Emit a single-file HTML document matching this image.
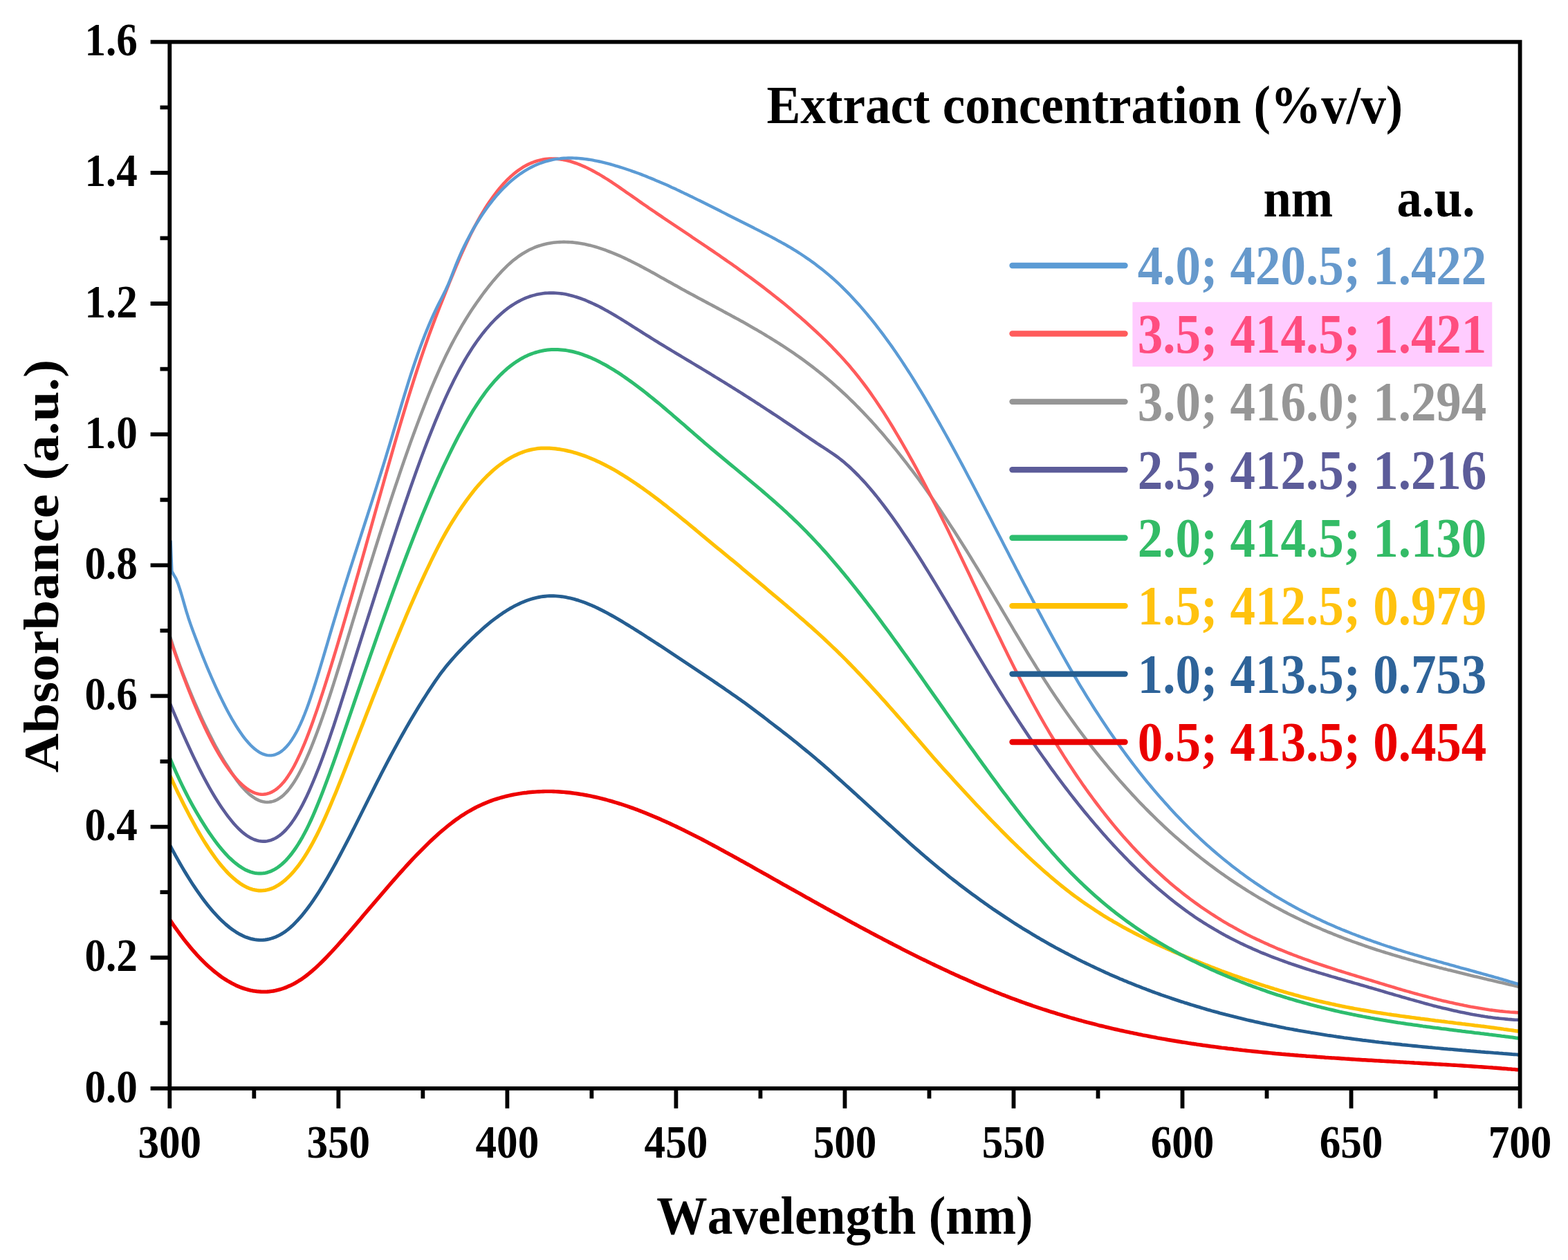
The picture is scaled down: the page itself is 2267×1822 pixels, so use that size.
<!DOCTYPE html>
<html lang="en"><head><meta charset="utf-8"><title>UV-Vis absorbance vs extract concentration</title>
<style>
html,body{margin:0;padding:0;background:#fff;}
body{width:2267px;height:1822px;overflow:hidden;}
svg{display:block;}
text{font-family:'Liberation Serif', serif;font-weight:bold;white-space:pre;font-kerning:none;}
.ax{stroke:#000;stroke-width:5.8;fill:none;stroke-linecap:butt;}
.cv{fill:none;stroke-linejoin:round;stroke-linecap:butt;}
.lg{fill:none;stroke-width:8.4;stroke-linecap:round;}
</style></head><body>
<svg xmlns="http://www.w3.org/2000/svg" width="2267" height="1822" viewBox="0 0 2267 1822">
<rect x="0" y="0" width="2267" height="1822" fill="#ffffff"/>
<defs><clipPath id="plot"><rect x="245.3" y="60.7" width="1952.3" height="1513.2"/></clipPath></defs>
<g clip-path="url(#plot)">
<polyline class="cv" stroke="#EE0000" stroke-width="5.4" points="245.3,1329.5 248.3,1334.0 251.3,1338.4 254.3,1342.6 257.3,1346.8 260.3,1350.9 263.3,1354.9 266.3,1358.8 269.3,1362.6 272.3,1366.3 275.3,1369.9 278.3,1373.5 281.3,1376.9 284.3,1380.3 287.3,1383.5 290.3,1386.7 293.3,1389.7 296.3,1392.6 299.3,1395.5 302.3,1398.2 305.3,1400.8 308.3,1403.4 311.3,1405.9 314.3,1408.2 317.3,1410.5 320.3,1412.7 323.3,1414.7 326.3,1416.6 329.3,1418.5 332.3,1420.2 335.3,1421.9 338.3,1423.4 341.3,1424.9 344.3,1426.2 347.3,1427.5 350.3,1428.6 353.3,1429.6 356.3,1430.5 359.3,1431.4 362.3,1432.1 365.3,1432.7 368.3,1433.1 371.3,1433.5 374.3,1433.8 377.3,1434.0 380.3,1434.1 383.3,1434.1 386.3,1434.0 389.3,1433.8 392.3,1433.4 395.3,1433.0 398.3,1432.4 401.3,1431.7 404.3,1430.9 407.3,1430.0 410.3,1429.0 413.3,1427.9 416.3,1426.6 419.3,1425.3 422.3,1423.8 425.3,1422.3 428.3,1420.6 431.3,1418.8 434.3,1416.9 437.3,1414.9 440.3,1412.8 443.3,1410.5 446.3,1408.1 449.3,1405.6 452.3,1403.1 455.3,1400.4 458.3,1397.7 461.3,1394.9 464.3,1392.0 467.3,1389.0 470.3,1386.0 473.3,1382.9 476.3,1379.7 479.3,1376.5 482.3,1373.2 485.3,1370.0 488.3,1366.7 491.3,1363.3 494.3,1359.9 497.3,1356.6 500.3,1353.1 503.3,1349.7 506.3,1346.2 509.3,1342.7 512.3,1339.2 515.3,1335.7 518.3,1332.2 521.3,1328.7 524.3,1325.1 527.3,1321.6 530.3,1318.1 533.3,1314.5 536.3,1311.0 539.3,1307.4 542.3,1303.9 545.3,1300.4 548.3,1296.9 551.3,1293.4 554.3,1289.9 557.3,1286.4 560.3,1282.9 563.3,1279.4 566.3,1276.0 569.3,1272.6 572.3,1269.2 575.3,1265.8 578.3,1262.4 581.3,1259.1 584.3,1255.7 587.3,1252.4 590.3,1249.1 593.3,1245.9 596.3,1242.7 599.3,1239.5 602.3,1236.4 605.3,1233.3 608.3,1230.3 611.3,1227.3 614.3,1224.3 617.3,1221.3 620.3,1218.4 623.3,1215.5 626.3,1212.7 629.3,1210.0 632.3,1207.3 635.3,1204.6 638.3,1202.0 641.3,1199.5 644.3,1197.0 647.3,1194.5 650.3,1192.1 653.3,1189.8 656.3,1187.5 659.3,1185.3 662.3,1183.2 665.3,1181.1 668.3,1179.1 671.3,1177.2 674.3,1175.3 677.3,1173.5 680.3,1171.8 683.3,1170.1 686.3,1168.5 689.3,1166.9 692.3,1165.5 695.3,1164.1 698.3,1162.7 701.3,1161.4 704.3,1160.2 707.3,1159.0 710.3,1157.9 713.3,1156.8 716.3,1155.8 719.3,1154.9 722.3,1154.0 725.3,1153.1 728.3,1152.3 731.3,1151.5 734.3,1150.8 737.3,1150.1 740.3,1149.5 743.3,1148.9 746.3,1148.4 749.3,1147.9 752.3,1147.4 755.3,1146.9 758.3,1146.5 761.3,1146.2 764.3,1145.8 767.3,1145.5 770.3,1145.3 773.3,1145.1 776.3,1144.9 779.3,1144.7 782.3,1144.6 785.3,1144.5 788.3,1144.4 791.3,1144.4 794.3,1144.4 797.3,1144.4 800.3,1144.5 803.3,1144.6 806.3,1144.8 809.3,1145.0 812.3,1145.2 815.3,1145.4 818.3,1145.7 821.3,1146.0 824.3,1146.3 827.3,1146.7 830.3,1147.1 833.3,1147.5 836.3,1148.0 839.3,1148.5 842.3,1148.9 845.3,1149.5 848.3,1150.0 851.3,1150.6 854.3,1151.2 857.3,1151.8 860.3,1152.5 863.3,1153.2 866.3,1153.9 869.3,1154.6 872.3,1155.4 875.3,1156.2 878.3,1157.0 881.3,1157.8 884.3,1158.7 887.3,1159.6 890.3,1160.5 893.3,1161.4 896.3,1162.3 899.3,1163.3 902.3,1164.3 905.3,1165.3 908.3,1166.3 911.3,1167.4 914.3,1168.4 917.3,1169.5 920.3,1170.6 923.3,1171.8 926.3,1172.9 929.3,1174.1 932.3,1175.2 935.3,1176.4 938.3,1177.7 941.3,1178.9 944.3,1180.2 947.3,1181.4 950.3,1182.7 953.3,1184.0 956.3,1185.4 959.3,1186.7 962.3,1188.1 965.3,1189.4 968.3,1190.8 971.3,1192.2 974.3,1193.6 977.3,1195.0 980.3,1196.5 983.3,1197.9 986.3,1199.4 989.3,1200.8 992.3,1202.3 995.3,1203.8 998.3,1205.3 1001.3,1206.8 1004.3,1208.3 1007.3,1209.9 1010.3,1211.4 1013.3,1212.9 1016.3,1214.5 1019.3,1216.1 1022.3,1217.7 1025.3,1219.3 1028.3,1220.9 1031.3,1222.5 1034.3,1224.1 1037.3,1225.7 1040.3,1227.3 1043.3,1229.0 1046.3,1230.6 1049.3,1232.3 1052.3,1233.9 1055.3,1235.6 1058.3,1237.2 1061.3,1238.9 1064.3,1240.5 1067.3,1242.2 1070.3,1243.9 1073.3,1245.5 1076.3,1247.2 1079.3,1248.9 1082.3,1250.5 1085.3,1252.2 1088.3,1253.9 1091.3,1255.6 1094.3,1257.3 1097.3,1259.0 1100.3,1260.7 1103.3,1262.4 1106.3,1264.0 1109.3,1265.7 1112.3,1267.4 1115.3,1269.1 1118.3,1270.8 1121.3,1272.5 1124.3,1274.2 1127.3,1275.9 1130.3,1277.6 1133.3,1279.3 1136.3,1280.9 1139.3,1282.6 1142.3,1284.3 1145.3,1286.0 1148.3,1287.6 1151.3,1289.3 1154.3,1291.0 1157.3,1292.7 1160.3,1294.4 1163.3,1296.1 1166.3,1297.8 1169.3,1299.4 1172.3,1301.1 1175.3,1302.8 1178.3,1304.5 1181.3,1306.1 1184.3,1307.8 1187.3,1309.5 1190.3,1311.1 1193.3,1312.8 1196.3,1314.5 1199.3,1316.1 1202.3,1317.8 1205.3,1319.4 1208.3,1321.1 1211.3,1322.7 1214.3,1324.4 1217.3,1326.0 1220.3,1327.7 1223.3,1329.3 1226.3,1331.0 1229.3,1332.6 1232.3,1334.3 1235.3,1335.9 1238.3,1337.5 1241.3,1339.2 1244.3,1340.8 1247.3,1342.4 1250.3,1344.0 1253.3,1345.6 1256.3,1347.2 1259.3,1348.8 1262.3,1350.4 1265.3,1352.0 1268.3,1353.6 1271.3,1355.2 1274.3,1356.7 1277.3,1358.3 1280.3,1359.9 1283.3,1361.4 1286.3,1363.0 1289.3,1364.5 1292.3,1366.1 1295.3,1367.6 1298.3,1369.2 1301.3,1370.7 1304.3,1372.3 1307.3,1373.8 1310.3,1375.3 1313.3,1376.8 1316.3,1378.3 1319.3,1379.8 1322.3,1381.3 1325.3,1382.8 1328.3,1384.3 1331.3,1385.8 1334.3,1387.3 1337.3,1388.7 1340.3,1390.2 1343.3,1391.6 1346.3,1393.1 1349.3,1394.5 1352.3,1396.0 1355.3,1397.4 1358.3,1398.8 1361.3,1400.2 1364.3,1401.6 1367.3,1403.0 1370.3,1404.4 1373.3,1405.9 1376.3,1407.3 1379.3,1408.6 1382.3,1410.0 1385.3,1411.3 1388.3,1412.7 1391.3,1414.0 1394.3,1415.3 1397.3,1416.6 1400.3,1417.9 1403.3,1419.3 1406.3,1420.6 1409.3,1421.9 1412.3,1423.2 1415.3,1424.5 1418.3,1425.8 1421.3,1427.0 1424.3,1428.2 1427.3,1429.5 1430.3,1430.7 1433.3,1431.9 1436.3,1433.1 1439.3,1434.4 1442.3,1435.6 1445.3,1436.8 1448.3,1438.0 1451.3,1439.1 1454.3,1440.3 1457.3,1441.4 1460.3,1442.6 1463.3,1443.7 1466.3,1444.8 1469.3,1445.9 1472.3,1447.0 1475.3,1448.1 1478.3,1449.2 1481.3,1450.3 1484.3,1451.4 1487.3,1452.4 1490.3,1453.4 1493.3,1454.5 1496.3,1455.5 1499.3,1456.5 1502.3,1457.5 1505.3,1458.5 1508.3,1459.5 1511.3,1460.4 1514.3,1461.4 1517.3,1462.4 1520.3,1463.3 1523.3,1464.2 1526.3,1465.1 1529.3,1466.1 1532.3,1467.0 1535.3,1467.9 1538.3,1468.8 1541.3,1469.7 1544.3,1470.6 1547.3,1471.5 1550.3,1472.3 1553.3,1473.2 1556.3,1474.0 1559.3,1474.9 1562.3,1475.7 1565.3,1476.5 1568.3,1477.3 1571.3,1478.1 1574.3,1478.8 1577.3,1479.6 1580.3,1480.4 1583.3,1481.2 1586.3,1482.0 1589.3,1482.8 1592.3,1483.5 1595.3,1484.2 1598.3,1485.0 1601.3,1485.7 1604.3,1486.4 1607.3,1487.1 1610.3,1487.8 1613.3,1488.5 1616.3,1489.2 1619.3,1489.9 1622.3,1490.5 1625.3,1491.2 1628.3,1491.8 1631.3,1492.4 1634.3,1493.1 1637.3,1493.7 1640.3,1494.3 1643.3,1494.9 1646.3,1495.6 1649.3,1496.2 1652.3,1496.8 1655.3,1497.3 1658.3,1497.9 1661.3,1498.5 1664.3,1499.1 1667.3,1499.7 1670.3,1500.2 1673.3,1500.8 1676.3,1501.3 1679.3,1501.9 1682.3,1502.4 1685.3,1502.9 1688.3,1503.5 1691.3,1504.0 1694.3,1504.5 1697.3,1505.0 1700.3,1505.5 1703.3,1506.0 1706.3,1506.5 1709.3,1507.0 1712.3,1507.4 1715.3,1507.9 1718.3,1508.4 1721.3,1508.8 1724.3,1509.3 1727.3,1509.7 1730.3,1510.2 1733.3,1510.6 1736.3,1511.0 1739.3,1511.5 1742.3,1511.9 1745.3,1512.3 1748.3,1512.7 1751.3,1513.1 1754.3,1513.5 1757.3,1513.9 1760.3,1514.3 1763.3,1514.7 1766.3,1515.1 1769.3,1515.4 1772.3,1515.8 1775.3,1516.2 1778.3,1516.5 1781.3,1516.8 1784.3,1517.2 1787.3,1517.5 1790.3,1517.9 1793.3,1518.2 1796.3,1518.6 1799.3,1518.9 1802.3,1519.3 1805.3,1519.6 1808.3,1519.9 1811.3,1520.2 1814.3,1520.5 1817.3,1520.8 1820.3,1521.1 1823.3,1521.4 1826.3,1521.7 1829.3,1522.0 1832.3,1522.3 1835.3,1522.6 1838.3,1522.9 1841.3,1523.2 1844.3,1523.5 1847.3,1523.7 1850.3,1524.0 1853.3,1524.3 1856.3,1524.5 1859.3,1524.8 1862.3,1525.0 1865.3,1525.3 1868.3,1525.5 1871.3,1525.8 1874.3,1526.0 1877.3,1526.3 1880.3,1526.5 1883.3,1526.7 1886.3,1526.9 1889.3,1527.2 1892.3,1527.4 1895.3,1527.6 1898.3,1527.8 1901.3,1528.0 1904.3,1528.3 1907.3,1528.5 1910.3,1528.7 1913.3,1528.9 1916.3,1529.2 1919.3,1529.4 1922.3,1529.6 1925.3,1529.8 1928.3,1529.9 1931.3,1530.1 1934.3,1530.3 1937.3,1530.5 1940.3,1530.7 1943.3,1530.9 1946.3,1531.1 1949.3,1531.3 1952.3,1531.5 1955.3,1531.7 1958.3,1531.9 1961.3,1532.1 1964.3,1532.3 1967.3,1532.5 1970.3,1532.7 1973.3,1532.8 1976.3,1533.0 1979.3,1533.2 1982.3,1533.3 1985.3,1533.5 1988.3,1533.7 1991.3,1533.9 1994.3,1534.0 1997.3,1534.2 2000.3,1534.4 2003.3,1534.6 2006.3,1534.7 2009.3,1534.9 2012.3,1535.1 2015.3,1535.2 2018.3,1535.4 2021.3,1535.6 2024.3,1535.8 2027.3,1535.9 2030.3,1536.1 2033.3,1536.3 2036.3,1536.4 2039.3,1536.6 2042.3,1536.8 2045.3,1537.0 2048.3,1537.1 2051.3,1537.3 2054.3,1537.5 2057.3,1537.7 2060.3,1537.8 2063.3,1538.0 2066.3,1538.2 2069.3,1538.3 2072.3,1538.5 2075.3,1538.7 2078.3,1538.9 2081.3,1539.0 2084.3,1539.2 2087.3,1539.4 2090.3,1539.5 2093.3,1539.7 2096.3,1539.9 2099.3,1540.1 2102.3,1540.2 2105.3,1540.4 2108.3,1540.6 2111.3,1540.8 2114.3,1541.0 2117.3,1541.2 2120.3,1541.4 2123.3,1541.6 2126.3,1541.8 2129.3,1542.0 2132.3,1542.2 2135.3,1542.4 2138.3,1542.6 2141.3,1542.8 2144.3,1543.0 2147.3,1543.2 2150.3,1543.4 2153.3,1543.6 2156.3,1543.8 2159.3,1544.1 2162.3,1544.3 2165.3,1544.5 2168.3,1544.7 2171.3,1545.0 2174.3,1545.2 2177.3,1545.4 2180.3,1545.7 2183.3,1545.9 2186.3,1546.2 2189.3,1546.4 2192.3,1546.7 2195.3,1546.9 2197.6,1547.1"/>
<polyline class="cv" stroke="#255E91" stroke-width="4.9" points="245.3,1221.5 248.3,1227.1 251.3,1232.6 254.3,1238.1 257.3,1243.4 260.3,1248.7 263.3,1253.9 266.3,1259.0 269.3,1263.9 272.3,1268.8 275.3,1273.5 278.3,1278.2 281.3,1282.7 284.3,1287.1 287.3,1291.4 290.3,1295.6 293.3,1299.7 296.3,1303.7 299.3,1307.6 302.3,1311.3 305.3,1314.9 308.3,1318.4 311.3,1321.7 314.3,1324.9 317.3,1328.0 320.3,1330.9 323.3,1333.8 326.3,1336.5 329.3,1339.0 332.3,1341.5 335.3,1343.7 338.3,1345.8 341.3,1347.8 344.3,1349.6 347.3,1351.3 350.3,1352.8 353.3,1354.2 356.3,1355.4 359.3,1356.4 362.3,1357.3 365.3,1358.0 368.3,1358.6 371.3,1359.0 374.3,1359.3 377.3,1359.4 380.3,1359.3 383.3,1359.0 386.3,1358.5 389.3,1357.8 392.3,1357.0 395.3,1356.1 398.3,1354.9 401.3,1353.6 404.3,1352.1 407.3,1350.4 410.3,1348.5 413.3,1346.4 416.3,1344.1 419.3,1341.6 422.3,1338.9 425.3,1336.0 428.3,1332.9 431.3,1329.7 434.3,1326.3 437.3,1322.8 440.3,1319.1 443.3,1315.2 446.3,1311.2 449.3,1307.1 452.3,1302.8 455.3,1298.4 458.3,1293.9 461.3,1289.2 464.3,1284.4 467.3,1279.5 470.3,1274.5 473.3,1269.5 476.3,1264.3 479.3,1259.0 482.3,1253.6 485.3,1248.2 488.3,1242.6 491.3,1237.0 494.3,1231.4 497.3,1225.7 500.3,1219.9 503.3,1214.1 506.3,1208.3 509.3,1202.4 512.3,1196.5 515.3,1190.5 518.3,1184.5 521.3,1178.5 524.3,1172.5 527.3,1166.5 530.3,1160.5 533.3,1154.5 536.3,1148.6 539.3,1142.6 542.3,1136.6 545.3,1130.7 548.3,1124.8 551.3,1118.9 554.3,1113.1 557.3,1107.4 560.3,1101.7 563.3,1096.0 566.3,1090.4 569.3,1084.8 572.3,1079.3 575.3,1073.8 578.3,1068.4 581.3,1063.0 584.3,1057.7 587.3,1052.4 590.3,1047.2 593.3,1042.1 596.3,1037.0 599.3,1031.9 602.3,1027.0 605.3,1022.0 608.3,1017.2 611.3,1012.4 614.3,1007.7 617.3,1003.0 620.3,998.4 623.3,993.9 626.3,989.4 629.3,984.9 632.3,980.6 635.3,976.3 638.3,972.3 641.3,968.4 644.3,964.6 647.3,960.9 650.3,957.4 653.3,953.9 656.3,950.5 659.3,947.2 662.3,943.9 665.3,940.7 668.3,937.6 671.3,934.5 674.3,931.4 677.3,928.4 680.3,925.4 683.3,922.5 686.3,919.7 689.3,916.9 692.3,914.2 695.3,911.5 698.3,908.8 701.3,906.2 704.3,903.6 707.3,901.1 710.3,898.7 713.3,896.4 716.3,894.1 719.3,891.9 722.3,889.8 725.3,887.7 728.3,885.6 731.3,883.7 734.3,881.8 737.3,880.0 740.3,878.3 743.3,876.7 746.3,875.1 749.3,873.7 752.3,872.3 755.3,870.9 758.3,869.7 761.3,868.5 764.3,867.5 767.3,866.5 770.3,865.6 773.3,864.8 776.3,864.1 779.3,863.5 782.3,862.9 785.3,862.5 788.3,862.2 791.3,861.9 794.3,861.8 797.3,861.7 800.3,861.7 803.3,861.9 806.3,862.1 809.3,862.4 812.3,862.7 815.3,863.2 818.3,863.7 821.3,864.3 824.3,864.9 827.3,865.6 830.3,866.4 833.3,867.3 836.3,868.2 839.3,869.2 842.3,870.2 845.3,871.3 848.3,872.5 851.3,873.7 854.3,874.9 857.3,876.3 860.3,877.6 863.3,879.0 866.3,880.5 869.3,882.0 872.3,883.5 875.3,885.1 878.3,886.7 881.3,888.3 884.3,890.0 887.3,891.7 890.3,893.4 893.3,895.1 896.3,896.9 899.3,898.7 902.3,900.5 905.3,902.3 908.3,904.1 911.3,906.0 914.3,907.8 917.3,909.7 920.3,911.6 923.3,913.5 926.3,915.4 929.3,917.3 932.3,919.2 935.3,921.2 938.3,923.1 941.3,925.1 944.3,927.0 947.3,929.0 950.3,930.9 953.3,932.9 956.3,934.8 959.3,936.8 962.3,938.8 965.3,940.7 968.3,942.7 971.3,944.7 974.3,946.7 977.3,948.7 980.3,950.7 983.3,952.7 986.3,954.7 989.3,956.7 992.3,958.7 995.3,960.7 998.3,962.7 1001.3,964.7 1004.3,966.7 1007.3,968.7 1010.3,970.7 1013.3,972.7 1016.3,974.7 1019.3,976.8 1022.3,978.8 1025.3,980.8 1028.3,982.8 1031.3,984.8 1034.3,986.9 1037.3,988.9 1040.3,991.0 1043.3,993.0 1046.3,995.1 1049.3,997.2 1052.3,999.2 1055.3,1001.3 1058.3,1003.4 1061.3,1005.5 1064.3,1007.6 1067.3,1009.7 1070.3,1011.8 1073.3,1014.0 1076.3,1016.1 1079.3,1018.3 1082.3,1020.5 1085.3,1022.7 1088.3,1024.9 1091.3,1027.2 1094.3,1029.4 1097.3,1031.7 1100.3,1034.0 1103.3,1036.3 1106.3,1038.6 1109.3,1040.9 1112.3,1043.3 1115.3,1045.6 1118.3,1047.9 1121.3,1050.2 1124.3,1052.5 1127.3,1054.8 1130.3,1057.1 1133.3,1059.5 1136.3,1061.8 1139.3,1064.2 1142.3,1066.5 1145.3,1068.9 1148.3,1071.3 1151.3,1073.7 1154.3,1076.2 1157.3,1078.6 1160.3,1081.1 1163.3,1083.5 1166.3,1086.0 1169.3,1088.4 1172.3,1090.9 1175.3,1093.4 1178.3,1095.9 1181.3,1098.5 1184.3,1101.0 1187.3,1103.6 1190.3,1106.2 1193.3,1108.8 1196.3,1111.4 1199.3,1114.1 1202.3,1116.8 1205.3,1119.5 1208.3,1122.2 1211.3,1124.9 1214.3,1127.6 1217.3,1130.3 1220.3,1133.0 1223.3,1135.7 1226.3,1138.4 1229.3,1141.1 1232.3,1143.9 1235.3,1146.6 1238.3,1149.3 1241.3,1152.1 1244.3,1154.8 1247.3,1157.5 1250.3,1160.3 1253.3,1163.0 1256.3,1165.7 1259.3,1168.5 1262.3,1171.2 1265.3,1174.0 1268.3,1176.7 1271.3,1179.5 1274.3,1182.2 1277.3,1185.0 1280.3,1187.7 1283.3,1190.4 1286.3,1193.1 1289.3,1195.8 1292.3,1198.5 1295.3,1201.2 1298.3,1203.9 1301.3,1206.7 1304.3,1209.4 1307.3,1212.1 1310.3,1214.8 1313.3,1217.5 1316.3,1220.2 1319.3,1222.8 1322.3,1225.5 1325.3,1228.1 1328.3,1230.7 1331.3,1233.3 1334.3,1235.9 1337.3,1238.5 1340.3,1241.0 1343.3,1243.6 1346.3,1246.1 1349.3,1248.6 1352.3,1251.1 1355.3,1253.6 1358.3,1256.1 1361.3,1258.5 1364.3,1261.0 1367.3,1263.4 1370.3,1265.9 1373.3,1268.3 1376.3,1270.6 1379.3,1273.0 1382.3,1275.3 1385.3,1277.7 1388.3,1280.0 1391.3,1282.3 1394.3,1284.5 1397.3,1286.8 1400.3,1289.0 1403.3,1291.2 1406.3,1293.4 1409.3,1295.6 1412.3,1297.8 1415.3,1300.0 1418.3,1302.2 1421.3,1304.3 1424.3,1306.5 1427.3,1308.6 1430.3,1310.7 1433.3,1312.8 1436.3,1314.9 1439.3,1316.9 1442.3,1318.9 1445.3,1320.9 1448.3,1322.9 1451.3,1324.9 1454.3,1326.9 1457.3,1328.8 1460.3,1330.8 1463.3,1332.8 1466.3,1334.7 1469.3,1336.6 1472.3,1338.5 1475.3,1340.4 1478.3,1342.3 1481.3,1344.1 1484.3,1345.9 1487.3,1347.7 1490.3,1349.5 1493.3,1351.4 1496.3,1353.2 1499.3,1355.0 1502.3,1356.7 1505.3,1358.5 1508.3,1360.2 1511.3,1361.9 1514.3,1363.6 1517.3,1365.3 1520.3,1367.0 1523.3,1368.6 1526.3,1370.3 1529.3,1371.9 1532.3,1373.5 1535.3,1375.1 1538.3,1376.7 1541.3,1378.3 1544.3,1379.8 1547.3,1381.4 1550.3,1383.0 1553.3,1384.5 1556.3,1386.1 1559.3,1387.6 1562.3,1389.1 1565.3,1390.6 1568.3,1392.0 1571.3,1393.5 1574.3,1394.9 1577.3,1396.4 1580.3,1397.8 1583.3,1399.2 1586.3,1400.6 1589.3,1402.0 1592.3,1403.4 1595.3,1404.8 1598.3,1406.2 1601.3,1407.5 1604.3,1408.9 1607.3,1410.2 1610.3,1411.5 1613.3,1412.8 1616.3,1414.1 1619.3,1415.4 1622.3,1416.6 1625.3,1417.9 1628.3,1419.1 1631.3,1420.4 1634.3,1421.6 1637.3,1422.8 1640.3,1424.0 1643.3,1425.2 1646.3,1426.3 1649.3,1427.5 1652.3,1428.7 1655.3,1429.8 1658.3,1431.0 1661.3,1432.1 1664.3,1433.2 1667.3,1434.4 1670.3,1435.5 1673.3,1436.5 1676.3,1437.6 1679.3,1438.7 1682.3,1439.7 1685.3,1440.8 1688.3,1441.8 1691.3,1442.8 1694.3,1443.9 1697.3,1444.9 1700.3,1445.9 1703.3,1446.9 1706.3,1447.9 1709.3,1448.8 1712.3,1449.8 1715.3,1450.7 1718.3,1451.6 1721.3,1452.6 1724.3,1453.5 1727.3,1454.4 1730.3,1455.3 1733.3,1456.2 1736.3,1457.1 1739.3,1458.0 1742.3,1458.9 1745.3,1459.8 1748.3,1460.6 1751.3,1461.5 1754.3,1462.3 1757.3,1463.1 1760.3,1463.9 1763.3,1464.8 1766.3,1465.6 1769.3,1466.4 1772.3,1467.2 1775.3,1467.9 1778.3,1468.7 1781.3,1469.4 1784.3,1470.2 1787.3,1470.9 1790.3,1471.7 1793.3,1472.4 1796.3,1473.1 1799.3,1473.8 1802.3,1474.6 1805.3,1475.3 1808.3,1476.0 1811.3,1476.7 1814.3,1477.4 1817.3,1478.0 1820.3,1478.7 1823.3,1479.4 1826.3,1480.0 1829.3,1480.6 1832.3,1481.3 1835.3,1481.9 1838.3,1482.5 1841.3,1483.1 1844.3,1483.7 1847.3,1484.3 1850.3,1485.0 1853.3,1485.6 1856.3,1486.2 1859.3,1486.8 1862.3,1487.3 1865.3,1487.9 1868.3,1488.4 1871.3,1489.0 1874.3,1489.5 1877.3,1490.1 1880.3,1490.6 1883.3,1491.1 1886.3,1491.6 1889.3,1492.2 1892.3,1492.7 1895.3,1493.2 1898.3,1493.6 1901.3,1494.1 1904.3,1494.6 1907.3,1495.1 1910.3,1495.6 1913.3,1496.1 1916.3,1496.6 1919.3,1497.1 1922.3,1497.5 1925.3,1497.9 1928.3,1498.4 1931.3,1498.8 1934.3,1499.3 1937.3,1499.7 1940.3,1500.1 1943.3,1500.6 1946.3,1501.0 1949.3,1501.4 1952.3,1501.8 1955.3,1502.2 1958.3,1502.6 1961.3,1503.0 1964.3,1503.4 1967.3,1503.8 1970.3,1504.2 1973.3,1504.5 1976.3,1504.9 1979.3,1505.3 1982.3,1505.6 1985.3,1506.0 1988.3,1506.4 1991.3,1506.7 1994.3,1507.1 1997.3,1507.4 2000.3,1507.8 2003.3,1508.1 2006.3,1508.4 2009.3,1508.7 2012.3,1509.1 2015.3,1509.4 2018.3,1509.7 2021.3,1510.0 2024.3,1510.3 2027.3,1510.7 2030.3,1511.0 2033.3,1511.3 2036.3,1511.6 2039.3,1511.9 2042.3,1512.2 2045.3,1512.5 2048.3,1512.8 2051.3,1513.1 2054.3,1513.4 2057.3,1513.7 2060.3,1514.0 2063.3,1514.3 2066.3,1514.6 2069.3,1514.8 2072.3,1515.1 2075.3,1515.4 2078.3,1515.6 2081.3,1515.9 2084.3,1516.2 2087.3,1516.5 2090.3,1516.7 2093.3,1517.0 2096.3,1517.2 2099.3,1517.4 2102.3,1517.7 2105.3,1518.0 2108.3,1518.3 2111.3,1518.5 2114.3,1518.8 2117.3,1519.0 2120.3,1519.3 2123.3,1519.5 2126.3,1519.8 2129.3,1520.0 2132.3,1520.2 2135.3,1520.5 2138.3,1520.7 2141.3,1521.0 2144.3,1521.2 2147.3,1521.5 2150.3,1521.7 2153.3,1521.9 2156.3,1522.1 2159.3,1522.4 2162.3,1522.6 2165.3,1522.8 2168.3,1523.1 2171.3,1523.3 2174.3,1523.6 2177.3,1523.8 2180.3,1524.0 2183.3,1524.2 2186.3,1524.5 2189.3,1524.7 2192.3,1524.9 2195.3,1525.2 2197.6,1525.4"/>
<polyline class="cv" stroke="#FFC000" stroke-width="5.2" points="245.3,1120.7 248.3,1127.2 251.3,1133.7 254.3,1140.0 257.3,1146.3 260.3,1152.4 263.3,1158.5 266.3,1164.5 269.3,1170.3 272.3,1176.1 275.3,1181.8 278.3,1187.3 281.3,1192.8 284.3,1198.2 287.3,1203.4 290.3,1208.5 293.3,1213.5 296.3,1218.3 299.3,1223.0 302.3,1227.6 305.3,1232.0 308.3,1236.3 311.3,1240.5 314.3,1244.5 317.3,1248.3 320.3,1252.0 323.3,1255.5 326.3,1258.9 329.3,1262.1 332.3,1265.1 335.3,1267.9 338.3,1270.6 341.3,1273.1 344.3,1275.4 347.3,1277.6 350.3,1279.5 353.3,1281.2 356.3,1282.8 359.3,1284.1 362.3,1285.3 365.3,1286.2 368.3,1286.9 371.3,1287.4 374.3,1287.8 377.3,1287.9 380.3,1287.7 383.3,1287.4 386.3,1286.8 389.3,1286.0 392.3,1285.0 395.3,1283.8 398.3,1282.3 401.3,1280.6 404.3,1278.7 407.3,1276.6 410.3,1274.3 413.3,1271.7 416.3,1268.9 419.3,1266.0 422.3,1262.8 425.3,1259.4 428.3,1255.7 431.3,1251.9 434.3,1247.7 437.3,1243.4 440.3,1238.9 443.3,1234.1 446.3,1229.1 449.3,1223.9 452.3,1218.5 455.3,1212.8 458.3,1207.0 461.3,1200.9 464.3,1194.6 467.3,1188.2 470.3,1181.6 473.3,1174.8 476.3,1167.9 479.3,1160.8 482.3,1153.6 485.3,1146.4 488.3,1139.0 491.3,1131.5 494.3,1124.0 497.3,1116.4 500.3,1108.8 503.3,1101.1 506.3,1093.4 509.3,1085.7 512.3,1078.0 515.3,1070.3 518.3,1062.6 521.3,1054.9 524.3,1047.2 527.3,1039.5 530.3,1031.8 533.3,1024.2 536.3,1016.5 539.3,1008.8 542.3,1001.2 545.3,993.6 548.3,986.1 551.3,978.5 554.3,971.0 557.3,963.5 560.3,956.0 563.3,948.5 566.3,941.1 569.3,933.8 572.3,926.4 575.3,919.2 578.3,911.9 581.3,904.8 584.3,897.7 587.3,890.6 590.3,883.6 593.3,876.6 596.3,869.7 599.3,862.9 602.3,856.1 605.3,849.4 608.3,842.8 611.3,836.3 614.3,829.9 617.3,823.5 620.3,817.3 623.3,811.0 626.3,804.9 629.3,798.8 632.3,792.9 635.3,787.1 638.3,781.4 641.3,775.9 644.3,770.6 647.3,765.4 650.3,760.3 653.3,755.4 656.3,750.6 659.3,745.8 662.3,741.2 665.3,736.7 668.3,732.3 671.3,728.0 674.3,723.8 677.3,719.7 680.3,715.7 683.3,711.8 686.3,708.0 689.3,704.4 692.3,701.0 695.3,697.6 698.3,694.3 701.3,691.2 704.3,688.2 707.3,685.3 710.3,682.5 713.3,679.8 716.3,677.3 719.3,674.8 722.3,672.5 725.3,670.3 728.3,668.2 731.3,666.2 734.3,664.3 737.3,662.5 740.3,660.8 743.3,659.2 746.3,657.8 749.3,656.4 752.3,655.1 755.3,654.0 758.3,652.9 761.3,651.9 764.3,651.1 767.3,650.4 770.3,649.7 773.3,649.2 776.3,648.7 779.3,648.4 782.3,648.2 785.3,648.1 788.3,648.0 791.3,648.1 794.3,648.2 797.3,648.4 800.3,648.6 803.3,648.9 806.3,649.3 809.3,649.7 812.3,650.2 815.3,650.8 818.3,651.4 821.3,652.1 824.3,652.8 827.3,653.6 830.3,654.4 833.3,655.3 836.3,656.2 839.3,657.2 842.3,658.2 845.3,659.3 848.3,660.4 851.3,661.6 854.3,662.8 857.3,664.1 860.3,665.4 863.3,666.8 866.3,668.2 869.3,669.6 872.3,671.1 875.3,672.6 878.3,674.2 881.3,675.8 884.3,677.4 887.3,679.1 890.3,680.8 893.3,682.6 896.3,684.4 899.3,686.2 902.3,688.1 905.3,690.0 908.3,691.9 911.3,693.9 914.3,695.9 917.3,697.9 920.3,699.9 923.3,702.0 926.3,704.1 929.3,706.2 932.3,708.3 935.3,710.5 938.3,712.7 941.3,714.9 944.3,717.1 947.3,719.4 950.3,721.6 953.3,723.9 956.3,726.2 959.3,728.6 962.3,730.9 965.3,733.3 968.3,735.7 971.3,738.1 974.3,740.5 977.3,742.9 980.3,745.3 983.3,747.8 986.3,750.2 989.3,752.6 992.3,755.1 995.3,757.5 998.3,760.0 1001.3,762.5 1004.3,764.9 1007.3,767.4 1010.3,769.9 1013.3,772.4 1016.3,774.9 1019.3,777.4 1022.3,779.9 1025.3,782.4 1028.3,784.9 1031.3,787.4 1034.3,789.9 1037.3,792.4 1040.3,794.8 1043.3,797.3 1046.3,799.8 1049.3,802.2 1052.3,804.7 1055.3,807.2 1058.3,809.6 1061.3,812.1 1064.3,814.6 1067.3,817.1 1070.3,819.6 1073.3,822.2 1076.3,824.7 1079.3,827.2 1082.3,829.7 1085.3,832.2 1088.3,834.7 1091.3,837.2 1094.3,839.7 1097.3,842.2 1100.3,844.7 1103.3,847.3 1106.3,849.8 1109.3,852.4 1112.3,854.9 1115.3,857.4 1118.3,860.0 1121.3,862.5 1124.3,865.0 1127.3,867.5 1130.3,870.0 1133.3,872.6 1136.3,875.1 1139.3,877.7 1142.3,880.2 1145.3,882.8 1148.3,885.4 1151.3,888.0 1154.3,890.6 1157.3,893.2 1160.3,895.8 1163.3,898.4 1166.3,901.0 1169.3,903.7 1172.3,906.3 1175.3,909.0 1178.3,911.7 1181.3,914.4 1184.3,917.2 1187.3,919.9 1190.3,922.7 1193.3,925.5 1196.3,928.3 1199.3,931.1 1202.3,934.0 1205.3,936.8 1208.3,939.7 1211.3,942.6 1214.3,945.6 1217.3,948.5 1220.3,951.5 1223.3,954.5 1226.3,957.6 1229.3,960.6 1232.3,963.7 1235.3,966.8 1238.3,970.0 1241.3,973.1 1244.3,976.3 1247.3,979.5 1250.3,982.7 1253.3,985.9 1256.3,989.1 1259.3,992.4 1262.3,995.7 1265.3,999.0 1268.3,1002.3 1271.3,1005.6 1274.3,1008.9 1277.3,1012.3 1280.3,1015.6 1283.3,1019.0 1286.3,1022.4 1289.3,1025.7 1292.3,1029.1 1295.3,1032.5 1298.3,1036.0 1301.3,1039.4 1304.3,1042.8 1307.3,1046.3 1310.3,1049.8 1313.3,1053.3 1316.3,1056.7 1319.3,1060.2 1322.3,1063.7 1325.3,1067.1 1328.3,1070.6 1331.3,1074.1 1334.3,1077.6 1337.3,1081.1 1340.3,1084.6 1343.3,1088.1 1346.3,1091.6 1349.3,1095.1 1352.3,1098.5 1355.3,1101.9 1358.3,1105.2 1361.3,1108.6 1364.3,1111.9 1367.3,1115.2 1370.3,1118.5 1373.3,1121.8 1376.3,1125.1 1379.3,1128.5 1382.3,1131.7 1385.3,1135.0 1388.3,1138.3 1391.3,1141.5 1394.3,1144.8 1397.3,1148.0 1400.3,1151.3 1403.3,1154.5 1406.3,1157.8 1409.3,1161.0 1412.3,1164.2 1415.3,1167.3 1418.3,1170.5 1421.3,1173.7 1424.3,1176.8 1427.3,1180.0 1430.3,1183.1 1433.3,1186.2 1436.3,1189.3 1439.3,1192.4 1442.3,1195.4 1445.3,1198.5 1448.3,1201.6 1451.3,1204.6 1454.3,1207.6 1457.3,1210.6 1460.3,1213.6 1463.3,1216.6 1466.3,1219.5 1469.3,1222.4 1472.3,1225.3 1475.3,1228.2 1478.3,1231.1 1481.3,1233.9 1484.3,1236.8 1487.3,1239.6 1490.3,1242.4 1493.3,1245.1 1496.3,1247.9 1499.3,1250.6 1502.3,1253.3 1505.3,1255.9 1508.3,1258.6 1511.3,1261.2 1514.3,1263.8 1517.3,1266.4 1520.3,1269.0 1523.3,1271.5 1526.3,1274.0 1529.3,1276.5 1532.3,1279.0 1535.3,1281.4 1538.3,1283.8 1541.3,1286.1 1544.3,1288.5 1547.3,1290.8 1550.3,1293.1 1553.3,1295.3 1556.3,1297.5 1559.3,1299.7 1562.3,1301.8 1565.3,1304.0 1568.3,1306.1 1571.3,1308.2 1574.3,1310.2 1577.3,1312.2 1580.3,1314.2 1583.3,1316.2 1586.3,1318.1 1589.3,1320.0 1592.3,1322.0 1595.3,1323.9 1598.3,1325.7 1601.3,1327.6 1604.3,1329.4 1607.3,1331.1 1610.3,1332.9 1613.3,1334.6 1616.3,1336.3 1619.3,1338.0 1622.3,1339.7 1625.3,1341.4 1628.3,1343.0 1631.3,1344.6 1634.3,1346.2 1637.3,1347.8 1640.3,1349.4 1643.3,1350.9 1646.3,1352.5 1649.3,1354.0 1652.3,1355.5 1655.3,1357.0 1658.3,1358.4 1661.3,1359.9 1664.3,1361.3 1667.3,1362.8 1670.3,1364.2 1673.3,1365.6 1676.3,1366.9 1679.3,1368.3 1682.3,1369.6 1685.3,1371.0 1688.3,1372.3 1691.3,1373.6 1694.3,1375.0 1697.3,1376.3 1700.3,1377.6 1703.3,1378.9 1706.3,1380.2 1709.3,1381.4 1712.3,1382.6 1715.3,1383.9 1718.3,1385.1 1721.3,1386.3 1724.3,1387.6 1727.3,1388.8 1730.3,1390.0 1733.3,1391.2 1736.3,1392.4 1739.3,1393.6 1742.3,1394.8 1745.3,1396.0 1748.3,1397.2 1751.3,1398.4 1754.3,1399.5 1757.3,1400.7 1760.3,1401.8 1763.3,1403.0 1766.3,1404.1 1769.3,1405.1 1772.3,1406.3 1775.3,1407.4 1778.3,1408.5 1781.3,1409.6 1784.3,1410.7 1787.3,1411.7 1790.3,1412.8 1793.3,1413.8 1796.3,1414.9 1799.3,1415.9 1802.3,1416.9 1805.3,1418.0 1808.3,1419.0 1811.3,1420.0 1814.3,1421.0 1817.3,1422.0 1820.3,1423.0 1823.3,1424.0 1826.3,1424.9 1829.3,1425.9 1832.3,1426.8 1835.3,1427.8 1838.3,1428.7 1841.3,1429.6 1844.3,1430.6 1847.3,1431.5 1850.3,1432.4 1853.3,1433.3 1856.3,1434.2 1859.3,1435.1 1862.3,1435.9 1865.3,1436.7 1868.3,1437.5 1871.3,1438.4 1874.3,1439.2 1877.3,1440.1 1880.3,1440.9 1883.3,1441.7 1886.3,1442.5 1889.3,1443.3 1892.3,1444.0 1895.3,1444.8 1898.3,1445.5 1901.3,1446.3 1904.3,1447.0 1907.3,1447.7 1910.3,1448.4 1913.3,1449.1 1916.3,1449.8 1919.3,1450.4 1922.3,1451.1 1925.3,1451.8 1928.3,1452.4 1931.3,1453.1 1934.3,1453.7 1937.3,1454.4 1940.3,1455.0 1943.3,1455.6 1946.3,1456.2 1949.3,1456.8 1952.3,1457.4 1955.3,1457.9 1958.3,1458.5 1961.3,1459.0 1964.3,1459.5 1967.3,1460.1 1970.3,1460.6 1973.3,1461.1 1976.3,1461.6 1979.3,1462.1 1982.3,1462.7 1985.3,1463.2 1988.3,1463.7 1991.3,1464.2 1994.3,1464.7 1997.3,1465.1 2000.3,1465.6 2003.3,1466.0 2006.3,1466.5 2009.3,1466.9 2012.3,1467.4 2015.3,1467.8 2018.3,1468.2 2021.3,1468.6 2024.3,1469.1 2027.3,1469.5 2030.3,1469.9 2033.3,1470.3 2036.3,1470.7 2039.3,1471.1 2042.3,1471.5 2045.3,1471.9 2048.3,1472.3 2051.3,1472.7 2054.3,1473.1 2057.3,1473.4 2060.3,1473.8 2063.3,1474.2 2066.3,1474.6 2069.3,1475.0 2072.3,1475.4 2075.3,1475.8 2078.3,1476.1 2081.3,1476.5 2084.3,1476.9 2087.3,1477.2 2090.3,1477.6 2093.3,1478.0 2096.3,1478.3 2099.3,1478.7 2102.3,1479.1 2105.3,1479.5 2108.3,1479.8 2111.3,1480.2 2114.3,1480.6 2117.3,1480.9 2120.3,1481.3 2123.3,1481.7 2126.3,1482.0 2129.3,1482.4 2132.3,1482.8 2135.3,1483.1 2138.3,1483.5 2141.3,1483.9 2144.3,1484.2 2147.3,1484.6 2150.3,1485.0 2153.3,1485.4 2156.3,1485.8 2159.3,1486.2 2162.3,1486.6 2165.3,1487.0 2168.3,1487.4 2171.3,1487.8 2174.3,1488.3 2177.3,1488.7 2180.3,1489.1 2183.3,1489.5 2186.3,1489.9 2189.3,1490.4 2192.3,1490.8 2195.3,1491.2 2197.6,1491.6"/>
<polyline class="cv" stroke="#2DBD6E" stroke-width="5.0" points="245.3,1095.2 248.3,1102.4 251.3,1109.4 254.3,1116.2 257.3,1122.8 260.3,1129.2 263.3,1135.5 266.3,1141.6 269.3,1147.5 272.3,1153.3 275.3,1159.0 278.3,1164.5 281.3,1169.8 284.3,1175.0 287.3,1180.1 290.3,1185.1 293.3,1189.9 296.3,1194.6 299.3,1199.3 302.3,1203.8 305.3,1208.2 308.3,1212.4 311.3,1216.5 314.3,1220.4 317.3,1224.2 320.3,1227.9 323.3,1231.4 326.3,1234.7 329.3,1237.9 332.3,1240.9 335.3,1243.7 338.3,1246.4 341.3,1248.8 344.3,1251.1 347.3,1253.2 350.3,1255.1 353.3,1256.9 356.3,1258.4 359.3,1259.7 362.3,1260.8 365.3,1261.7 368.3,1262.4 371.3,1262.8 374.3,1263.1 377.3,1263.1 380.3,1262.8 383.3,1262.4 386.3,1261.7 389.3,1260.7 392.3,1259.6 395.3,1258.1 398.3,1256.4 401.3,1254.5 404.3,1252.3 407.3,1249.9 410.3,1247.1 413.3,1244.2 416.3,1240.9 419.3,1237.4 422.3,1233.6 425.3,1229.5 428.3,1225.1 431.3,1220.5 434.3,1215.6 437.3,1210.4 440.3,1204.9 443.3,1199.1 446.3,1193.0 449.3,1186.6 452.3,1179.9 455.3,1172.9 458.3,1165.8 461.3,1158.4 464.3,1150.8 467.3,1143.1 470.3,1135.2 473.3,1127.2 476.3,1119.0 479.3,1110.7 482.3,1102.3 485.3,1093.8 488.3,1085.3 491.3,1076.7 494.3,1068.0 497.3,1059.3 500.3,1050.5 503.3,1041.8 506.3,1033.0 509.3,1024.2 512.3,1015.4 515.3,1006.6 518.3,997.9 521.3,989.2 524.3,980.5 527.3,971.8 530.3,963.1 533.3,954.4 536.3,945.8 539.3,937.2 542.3,928.6 545.3,920.0 548.3,911.5 551.3,903.0 554.3,894.6 557.3,886.1 560.3,877.8 563.3,869.4 566.3,861.1 569.3,852.9 572.3,844.7 575.3,836.5 578.3,828.4 581.3,820.4 584.3,812.4 587.3,804.5 590.3,796.6 593.3,788.8 596.3,781.1 599.3,773.4 602.3,765.8 605.3,758.3 608.3,750.8 611.3,743.4 614.3,736.2 617.3,729.0 620.3,721.9 623.3,714.8 626.3,707.8 629.3,700.9 632.3,694.1 635.3,687.4 638.3,680.8 641.3,674.3 644.3,668.0 647.3,661.7 650.3,655.5 653.3,649.4 656.3,643.3 659.3,637.5 662.3,631.7 665.3,626.1 668.3,620.6 671.3,615.2 674.3,609.9 677.3,604.7 680.3,599.7 683.3,594.7 686.3,590.0 689.3,585.3 692.3,580.8 695.3,576.4 698.3,572.2 701.3,568.0 704.3,564.1 707.3,560.3 710.3,556.6 713.3,553.1 716.3,549.7 719.3,546.5 722.3,543.3 725.3,540.4 728.3,537.5 731.3,534.8 734.3,532.2 737.3,529.8 740.3,527.5 743.3,525.3 746.3,523.2 749.3,521.3 752.3,519.4 755.3,517.7 758.3,516.1 761.3,514.7 764.3,513.3 767.3,512.1 770.3,511.0 773.3,510.0 776.3,509.1 779.3,508.3 782.3,507.6 785.3,507.0 788.3,506.4 791.3,506.0 794.3,505.7 797.3,505.5 800.3,505.4 803.3,505.4 806.3,505.5 809.3,505.7 812.3,505.9 815.3,506.2 818.3,506.6 821.3,507.1 824.3,507.7 827.3,508.3 830.3,509.0 833.3,509.8 836.3,510.7 839.3,511.7 842.3,512.7 845.3,513.8 848.3,514.9 851.3,516.1 854.3,517.3 857.3,518.7 860.3,520.1 863.3,521.5 866.3,523.0 869.3,524.6 872.3,526.2 875.3,527.8 878.3,529.5 881.3,531.3 884.3,533.1 887.3,534.9 890.3,536.8 893.3,538.7 896.3,540.7 899.3,542.7 902.3,544.8 905.3,546.9 908.3,549.0 911.3,551.1 914.3,553.3 917.3,555.5 920.3,557.7 923.3,559.9 926.3,562.2 929.3,564.5 932.3,566.9 935.3,569.3 938.3,571.7 941.3,574.1 944.3,576.5 947.3,579.0 950.3,581.5 953.3,583.9 956.3,586.4 959.3,589.0 962.3,591.5 965.3,594.1 968.3,596.7 971.3,599.2 974.3,601.8 977.3,604.4 980.3,607.0 983.3,609.6 986.3,612.1 989.3,614.7 992.3,617.4 995.3,620.0 998.3,622.6 1001.3,625.2 1004.3,627.8 1007.3,630.4 1010.3,633.0 1013.3,635.6 1016.3,638.2 1019.3,640.8 1022.3,643.3 1025.3,645.9 1028.3,648.5 1031.3,651.0 1034.3,653.5 1037.3,656.0 1040.3,658.5 1043.3,661.0 1046.3,663.5 1049.3,666.0 1052.3,668.5 1055.3,671.0 1058.3,673.5 1061.3,675.9 1064.3,678.4 1067.3,680.9 1070.3,683.4 1073.3,685.9 1076.3,688.3 1079.3,690.8 1082.3,693.3 1085.3,695.8 1088.3,698.3 1091.3,700.8 1094.3,703.3 1097.3,705.9 1100.3,708.4 1103.3,711.0 1106.3,713.6 1109.3,716.2 1112.3,718.8 1115.3,721.4 1118.3,724.0 1121.3,726.6 1124.3,729.3 1127.3,732.0 1130.3,734.7 1133.3,737.5 1136.3,740.2 1139.3,743.0 1142.3,745.9 1145.3,748.7 1148.3,751.6 1151.3,754.4 1154.3,757.3 1157.3,760.3 1160.3,763.3 1163.3,766.3 1166.3,769.3 1169.3,772.4 1172.3,775.5 1175.3,778.7 1178.3,781.9 1181.3,785.1 1184.3,788.3 1187.3,791.6 1190.3,795.0 1193.3,798.3 1196.3,801.7 1199.3,805.2 1202.3,808.6 1205.3,812.1 1208.3,815.6 1211.3,819.1 1214.3,822.7 1217.3,826.3 1220.3,829.9 1223.3,833.6 1226.3,837.2 1229.3,841.0 1232.3,844.7 1235.3,848.5 1238.3,852.3 1241.3,856.1 1244.3,859.9 1247.3,863.8 1250.3,867.6 1253.3,871.5 1256.3,875.4 1259.3,879.3 1262.3,883.3 1265.3,887.3 1268.3,891.3 1271.3,895.3 1274.3,899.3 1277.3,903.4 1280.3,907.5 1283.3,911.5 1286.3,915.6 1289.3,919.7 1292.3,923.9 1295.3,928.0 1298.3,932.1 1301.3,936.3 1304.3,940.4 1307.3,944.6 1310.3,948.8 1313.3,953.0 1316.3,957.2 1319.3,961.4 1322.3,965.6 1325.3,969.9 1328.3,974.1 1331.3,978.3 1334.3,982.6 1337.3,986.9 1340.3,991.2 1343.3,995.5 1346.3,999.7 1349.3,1004.0 1352.3,1008.2 1355.3,1012.5 1358.3,1016.7 1361.3,1021.0 1364.3,1025.3 1367.3,1029.6 1370.3,1033.9 1373.3,1038.1 1376.3,1042.4 1379.3,1046.6 1382.3,1050.9 1385.3,1055.1 1388.3,1059.4 1391.3,1063.6 1394.3,1067.8 1397.3,1072.1 1400.3,1076.3 1403.3,1080.5 1406.3,1084.6 1409.3,1088.8 1412.3,1093.0 1415.3,1097.2 1418.3,1101.3 1421.3,1105.5 1424.3,1109.6 1427.3,1113.7 1430.3,1117.8 1433.3,1121.9 1436.3,1126.0 1439.3,1130.1 1442.3,1134.1 1445.3,1138.2 1448.3,1142.2 1451.3,1146.2 1454.3,1150.1 1457.3,1154.1 1460.3,1158.0 1463.3,1162.0 1466.3,1165.8 1469.3,1169.7 1472.3,1173.5 1475.3,1177.4 1478.3,1181.2 1481.3,1185.0 1484.3,1188.7 1487.3,1192.5 1490.3,1196.2 1493.3,1199.9 1496.3,1203.5 1499.3,1207.2 1502.3,1210.8 1505.3,1214.3 1508.3,1217.8 1511.3,1221.3 1514.3,1224.8 1517.3,1228.2 1520.3,1231.7 1523.3,1235.0 1526.3,1238.4 1529.3,1241.7 1532.3,1245.0 1535.3,1248.2 1538.3,1251.5 1541.3,1254.7 1544.3,1257.8 1547.3,1260.9 1550.3,1264.0 1553.3,1267.0 1556.3,1270.0 1559.3,1273.0 1562.3,1275.9 1565.3,1278.8 1568.3,1281.6 1571.3,1284.4 1574.3,1287.2 1577.3,1289.9 1580.3,1292.6 1583.3,1295.3 1586.3,1297.9 1589.3,1300.5 1592.3,1303.1 1595.3,1305.6 1598.3,1308.1 1601.3,1310.6 1604.3,1313.0 1607.3,1315.5 1610.3,1317.8 1613.3,1320.2 1616.3,1322.5 1619.3,1324.8 1622.3,1327.1 1625.3,1329.3 1628.3,1331.5 1631.3,1333.6 1634.3,1335.8 1637.3,1337.9 1640.3,1340.0 1643.3,1342.1 1646.3,1344.1 1649.3,1346.1 1652.3,1348.1 1655.3,1350.1 1658.3,1352.1 1661.3,1354.0 1664.3,1355.8 1667.3,1357.7 1670.3,1359.5 1673.3,1361.3 1676.3,1363.1 1679.3,1364.9 1682.3,1366.7 1685.3,1368.4 1688.3,1370.1 1691.3,1371.8 1694.3,1373.4 1697.3,1375.1 1700.3,1376.7 1703.3,1378.4 1706.3,1380.0 1709.3,1381.6 1712.3,1383.1 1715.3,1384.7 1718.3,1386.2 1721.3,1387.7 1724.3,1389.2 1727.3,1390.6 1730.3,1392.1 1733.3,1393.5 1736.3,1394.9 1739.3,1396.3 1742.3,1397.7 1745.3,1399.1 1748.3,1400.5 1751.3,1401.9 1754.3,1403.2 1757.3,1404.5 1760.3,1405.9 1763.3,1407.1 1766.3,1408.4 1769.3,1409.7 1772.3,1410.9 1775.3,1412.2 1778.3,1413.5 1781.3,1414.7 1784.3,1415.9 1787.3,1417.1 1790.3,1418.3 1793.3,1419.5 1796.3,1420.6 1799.3,1421.8 1802.3,1423.0 1805.3,1424.1 1808.3,1425.2 1811.3,1426.3 1814.3,1427.4 1817.3,1428.5 1820.3,1429.5 1823.3,1430.6 1826.3,1431.7 1829.3,1432.7 1832.3,1433.8 1835.3,1434.8 1838.3,1435.8 1841.3,1436.8 1844.3,1437.8 1847.3,1438.8 1850.3,1439.7 1853.3,1440.7 1856.3,1441.6 1859.3,1442.5 1862.3,1443.5 1865.3,1444.4 1868.3,1445.2 1871.3,1446.1 1874.3,1447.0 1877.3,1447.8 1880.3,1448.7 1883.3,1449.5 1886.3,1450.4 1889.3,1451.2 1892.3,1452.0 1895.3,1452.8 1898.3,1453.6 1901.3,1454.4 1904.3,1455.2 1907.3,1455.9 1910.3,1456.7 1913.3,1457.4 1916.3,1458.1 1919.3,1458.9 1922.3,1459.6 1925.3,1460.3 1928.3,1461.0 1931.3,1461.7 1934.3,1462.4 1937.3,1463.1 1940.3,1463.8 1943.3,1464.4 1946.3,1465.0 1949.3,1465.6 1952.3,1466.2 1955.3,1466.9 1958.3,1467.5 1961.3,1468.1 1964.3,1468.7 1967.3,1469.3 1970.3,1469.9 1973.3,1470.4 1976.3,1471.0 1979.3,1471.5 1982.3,1472.1 1985.3,1472.6 1988.3,1473.2 1991.3,1473.7 1994.3,1474.2 1997.3,1474.7 2000.3,1475.3 2003.3,1475.8 2006.3,1476.3 2009.3,1476.7 2012.3,1477.2 2015.3,1477.7 2018.3,1478.2 2021.3,1478.7 2024.3,1479.1 2027.3,1479.6 2030.3,1480.0 2033.3,1480.5 2036.3,1480.9 2039.3,1481.3 2042.3,1481.8 2045.3,1482.2 2048.3,1482.6 2051.3,1483.0 2054.3,1483.4 2057.3,1483.9 2060.3,1484.3 2063.3,1484.7 2066.3,1485.1 2069.3,1485.5 2072.3,1485.9 2075.3,1486.3 2078.3,1486.6 2081.3,1487.0 2084.3,1487.4 2087.3,1487.7 2090.3,1488.1 2093.3,1488.5 2096.3,1488.9 2099.3,1489.3 2102.3,1489.7 2105.3,1490.1 2108.3,1490.4 2111.3,1490.8 2114.3,1491.2 2117.3,1491.5 2120.3,1491.9 2123.3,1492.3 2126.3,1492.6 2129.3,1493.0 2132.3,1493.4 2135.3,1493.7 2138.3,1494.1 2141.3,1494.5 2144.3,1494.8 2147.3,1495.2 2150.3,1495.6 2153.3,1496.0 2156.3,1496.3 2159.3,1496.7 2162.3,1497.1 2165.3,1497.4 2168.3,1497.8 2171.3,1498.2 2174.3,1498.5 2177.3,1498.9 2180.3,1499.3 2183.3,1499.7 2186.3,1500.1 2189.3,1500.5 2192.3,1500.9 2195.3,1501.3 2197.6,1501.6"/>
<polyline class="cv" stroke="#5C5C99" stroke-width="4.6" points="245.3,1016.0 248.3,1023.2 251.3,1030.3 254.3,1037.4 257.3,1044.4 260.3,1051.4 263.3,1058.3 266.3,1065.0 269.3,1071.7 272.3,1078.3 275.3,1084.8 278.3,1091.2 281.3,1097.4 284.3,1103.6 287.3,1109.7 290.3,1115.6 293.3,1121.5 296.3,1127.1 299.3,1132.7 302.3,1138.1 305.3,1143.4 308.3,1148.5 311.3,1153.5 314.3,1158.3 317.3,1163.0 320.3,1167.5 323.3,1171.8 326.3,1176.0 329.3,1180.1 332.3,1183.9 335.3,1187.6 338.3,1191.2 341.3,1194.5 344.3,1197.6 347.3,1200.5 350.3,1203.2 353.3,1205.6 356.3,1207.8 359.3,1209.8 362.3,1211.6 365.3,1213.0 368.3,1214.3 371.3,1215.3 374.3,1216.0 377.3,1216.4 380.3,1216.6 383.3,1216.6 386.3,1216.2 389.3,1215.6 392.3,1214.7 395.3,1213.5 398.3,1212.0 401.3,1210.2 404.3,1208.1 407.3,1205.7 410.3,1203.0 413.3,1200.0 416.3,1196.6 419.3,1192.9 422.3,1188.8 425.3,1184.5 428.3,1179.7 431.3,1174.7 434.3,1169.4 437.3,1163.8 440.3,1157.9 443.3,1151.7 446.3,1145.2 449.3,1138.4 452.3,1131.4 455.3,1124.2 458.3,1116.7 461.3,1109.1 464.3,1101.2 467.3,1093.1 470.3,1084.8 473.3,1076.3 476.3,1067.7 479.3,1058.8 482.3,1049.9 485.3,1040.8 488.3,1031.5 491.3,1022.2 494.3,1012.7 497.3,1003.2 500.3,993.7 503.3,984.1 506.3,974.5 509.3,964.9 512.3,955.4 515.3,945.8 518.3,936.3 521.3,926.8 524.3,917.3 527.3,907.8 530.3,898.4 533.3,889.0 536.3,879.6 539.3,870.2 542.3,860.8 545.3,851.4 548.3,842.0 551.3,832.6 554.3,823.3 557.3,813.9 560.3,804.6 563.3,795.4 566.3,786.2 569.3,777.0 572.3,767.9 575.3,758.8 578.3,749.8 581.3,740.9 584.3,732.0 587.3,723.2 590.3,714.4 593.3,705.8 596.3,697.2 599.3,688.7 602.3,680.3 605.3,672.0 608.3,663.8 611.3,655.8 614.3,647.8 617.3,639.9 620.3,632.2 623.3,624.6 626.3,617.1 629.3,609.7 632.3,602.5 635.3,595.4 638.3,588.4 641.3,581.6 644.3,574.9 647.3,568.4 650.3,562.1 653.3,555.9 656.3,549.8 659.3,544.0 662.3,538.2 665.3,532.7 668.3,527.3 671.3,522.0 674.3,516.9 677.3,512.0 680.3,507.2 683.3,502.6 686.3,498.1 689.3,493.8 692.3,489.6 695.3,485.6 698.3,481.7 701.3,478.0 704.3,474.4 707.3,471.0 710.3,467.6 713.3,464.5 716.3,461.4 719.3,458.5 722.3,455.7 725.3,453.0 728.3,450.4 731.3,448.0 734.3,445.7 737.3,443.5 740.3,441.5 743.3,439.6 746.3,437.8 749.3,436.1 752.3,434.5 755.3,433.0 758.3,431.7 761.3,430.4 764.3,429.3 767.3,428.3 770.3,427.4 773.3,426.6 776.3,425.8 779.3,425.2 782.3,424.7 785.3,424.3 788.3,423.9 791.3,423.7 794.3,423.6 797.3,423.6 800.3,423.6 803.3,423.8 806.3,424.0 809.3,424.3 812.3,424.6 815.3,425.1 818.3,425.6 821.3,426.2 824.3,427.0 827.3,427.7 830.3,428.6 833.3,429.5 836.3,430.5 839.3,431.5 842.3,432.6 845.3,433.7 848.3,435.0 851.3,436.3 854.3,437.6 857.3,439.0 860.3,440.4 863.3,441.8 866.3,443.3 869.3,444.9 872.3,446.5 875.3,448.2 878.3,449.8 881.3,451.6 884.3,453.3 887.3,455.0 890.3,456.8 893.3,458.6 896.3,460.4 899.3,462.3 902.3,464.1 905.3,466.0 908.3,467.9 911.3,469.8 914.3,471.7 917.3,473.6 920.3,475.5 923.3,477.4 926.3,479.3 929.3,481.2 932.3,483.1 935.3,485.0 938.3,486.8 941.3,488.7 944.3,490.6 947.3,492.5 950.3,494.3 953.3,496.2 956.3,498.0 959.3,499.8 962.3,501.6 965.3,503.5 968.3,505.3 971.3,507.1 974.3,508.9 977.3,510.7 980.3,512.5 983.3,514.3 986.3,516.1 989.3,517.9 992.3,519.7 995.3,521.5 998.3,523.3 1001.3,525.1 1004.3,526.9 1007.3,528.7 1010.3,530.5 1013.3,532.3 1016.3,534.1 1019.3,535.9 1022.3,537.7 1025.3,539.5 1028.3,541.4 1031.3,543.2 1034.3,545.1 1037.3,546.9 1040.3,548.8 1043.3,550.6 1046.3,552.4 1049.3,554.3 1052.3,556.1 1055.3,558.0 1058.3,559.9 1061.3,561.7 1064.3,563.6 1067.3,565.5 1070.3,567.4 1073.3,569.3 1076.3,571.2 1079.3,573.1 1082.3,575.0 1085.3,577.0 1088.3,578.9 1091.3,580.8 1094.3,582.8 1097.3,584.7 1100.3,586.7 1103.3,588.6 1106.3,590.6 1109.3,592.6 1112.3,594.5 1115.3,596.5 1118.3,598.5 1121.3,600.4 1124.3,602.4 1127.3,604.4 1130.3,606.4 1133.3,608.5 1136.3,610.5 1139.3,612.5 1142.3,614.5 1145.3,616.5 1148.3,618.5 1151.3,620.6 1154.3,622.7 1157.3,624.7 1160.3,626.8 1163.3,628.9 1166.3,630.9 1169.3,632.9 1172.3,635.0 1175.3,637.0 1178.3,639.0 1181.3,641.1 1184.3,643.0 1187.3,645.0 1190.3,646.9 1193.3,648.9 1196.3,650.8 1199.3,652.8 1202.3,654.8 1205.3,656.9 1208.3,659.0 1211.3,661.2 1214.3,663.5 1217.3,665.9 1220.3,668.3 1223.3,670.9 1226.3,673.5 1229.3,676.3 1232.3,679.1 1235.3,682.0 1238.3,685.0 1241.3,688.0 1244.3,691.2 1247.3,694.4 1250.3,697.6 1253.3,701.0 1256.3,704.4 1259.3,708.0 1262.3,711.5 1265.3,715.2 1268.3,718.9 1271.3,722.7 1274.3,726.6 1277.3,730.5 1280.3,734.5 1283.3,738.5 1286.3,742.6 1289.3,746.7 1292.3,750.9 1295.3,755.1 1298.3,759.4 1301.3,763.8 1304.3,768.2 1307.3,772.7 1310.3,777.1 1313.3,781.6 1316.3,786.2 1319.3,790.8 1322.3,795.4 1325.3,800.1 1328.3,804.8 1331.3,809.5 1334.3,814.3 1337.3,819.2 1340.3,824.0 1343.3,828.9 1346.3,833.8 1349.3,838.7 1352.3,843.6 1355.3,848.6 1358.3,853.6 1361.3,858.6 1364.3,863.6 1367.3,868.6 1370.3,873.7 1373.3,878.8 1376.3,883.8 1379.3,888.9 1382.3,894.0 1385.3,899.1 1388.3,904.1 1391.3,909.2 1394.3,914.3 1397.3,919.4 1400.3,924.5 1403.3,929.6 1406.3,934.7 1409.3,939.8 1412.3,944.8 1415.3,949.9 1418.3,954.9 1421.3,959.9 1424.3,964.9 1427.3,969.9 1430.3,974.9 1433.3,979.8 1436.3,984.8 1439.3,989.7 1442.3,994.6 1445.3,999.5 1448.3,1004.3 1451.3,1009.1 1454.3,1013.9 1457.3,1018.6 1460.3,1023.3 1463.3,1028.0 1466.3,1032.7 1469.3,1037.3 1472.3,1042.0 1475.3,1046.6 1478.3,1051.1 1481.3,1055.6 1484.3,1060.1 1487.3,1064.6 1490.3,1069.0 1493.3,1073.4 1496.3,1077.8 1499.3,1082.2 1502.3,1086.5 1505.3,1090.8 1508.3,1095.0 1511.3,1099.2 1514.3,1103.4 1517.3,1107.6 1520.3,1111.8 1523.3,1115.9 1526.3,1120.0 1529.3,1124.1 1532.3,1128.1 1535.3,1132.1 1538.3,1136.1 1541.3,1140.0 1544.3,1143.9 1547.3,1147.8 1550.3,1151.6 1553.3,1155.5 1556.3,1159.3 1559.3,1163.1 1562.3,1166.8 1565.3,1170.5 1568.3,1174.2 1571.3,1177.8 1574.3,1181.4 1577.3,1185.0 1580.3,1188.5 1583.3,1192.1 1586.3,1195.6 1589.3,1199.1 1592.3,1202.5 1595.3,1205.9 1598.3,1209.3 1601.3,1212.7 1604.3,1216.0 1607.3,1219.3 1610.3,1222.6 1613.3,1225.8 1616.3,1229.0 1619.3,1232.1 1622.3,1235.2 1625.3,1238.3 1628.3,1241.4 1631.3,1244.5 1634.3,1247.5 1637.3,1250.5 1640.3,1253.4 1643.3,1256.4 1646.3,1259.3 1649.3,1262.1 1652.3,1265.0 1655.3,1267.8 1658.3,1270.6 1661.3,1273.3 1664.3,1276.0 1667.3,1278.7 1670.3,1281.3 1673.3,1283.9 1676.3,1286.5 1679.3,1289.1 1682.3,1291.6 1685.3,1294.1 1688.3,1296.6 1691.3,1299.0 1694.3,1301.4 1697.3,1303.8 1700.3,1306.1 1703.3,1308.4 1706.3,1310.7 1709.3,1312.9 1712.3,1315.1 1715.3,1317.3 1718.3,1319.5 1721.3,1321.6 1724.3,1323.7 1727.3,1325.8 1730.3,1327.8 1733.3,1329.8 1736.3,1331.7 1739.3,1333.7 1742.3,1335.5 1745.3,1337.4 1748.3,1339.2 1751.3,1341.0 1754.3,1342.8 1757.3,1344.6 1760.3,1346.3 1763.3,1348.1 1766.3,1349.8 1769.3,1351.4 1772.3,1353.1 1775.3,1354.6 1778.3,1356.2 1781.3,1357.8 1784.3,1359.3 1787.3,1360.8 1790.3,1362.3 1793.3,1363.8 1796.3,1365.2 1799.3,1366.6 1802.3,1368.0 1805.3,1369.4 1808.3,1370.7 1811.3,1372.1 1814.3,1373.4 1817.3,1374.7 1820.3,1376.0 1823.3,1377.3 1826.3,1378.5 1829.3,1379.7 1832.3,1380.9 1835.3,1382.1 1838.3,1383.3 1841.3,1384.5 1844.3,1385.6 1847.3,1386.7 1850.3,1387.8 1853.3,1388.9 1856.3,1390.0 1859.3,1391.1 1862.3,1392.2 1865.3,1393.2 1868.3,1394.3 1871.3,1395.3 1874.3,1396.3 1877.3,1397.3 1880.3,1398.3 1883.3,1399.3 1886.3,1400.2 1889.3,1401.2 1892.3,1402.1 1895.3,1403.1 1898.3,1404.0 1901.3,1404.9 1904.3,1405.9 1907.3,1406.8 1910.3,1407.6 1913.3,1408.5 1916.3,1409.4 1919.3,1410.3 1922.3,1411.2 1925.3,1412.1 1928.3,1412.9 1931.3,1413.8 1934.3,1414.7 1937.3,1415.5 1940.3,1416.4 1943.3,1417.3 1946.3,1418.1 1949.3,1419.0 1952.3,1419.8 1955.3,1420.7 1958.3,1421.6 1961.3,1422.4 1964.3,1423.3 1967.3,1424.2 1970.3,1425.0 1973.3,1425.9 1976.3,1426.8 1979.3,1427.7 1982.3,1428.5 1985.3,1429.4 1988.3,1430.3 1991.3,1431.1 1994.3,1432.0 1997.3,1432.9 2000.3,1433.8 2003.3,1434.7 2006.3,1435.6 2009.3,1436.5 2012.3,1437.3 2015.3,1438.2 2018.3,1439.1 2021.3,1439.9 2024.3,1440.8 2027.3,1441.7 2030.3,1442.5 2033.3,1443.4 2036.3,1444.2 2039.3,1445.1 2042.3,1445.9 2045.3,1446.8 2048.3,1447.6 2051.3,1448.4 2054.3,1449.3 2057.3,1450.1 2060.3,1451.0 2063.3,1451.8 2066.3,1452.6 2069.3,1453.4 2072.3,1454.2 2075.3,1454.9 2078.3,1455.7 2081.3,1456.4 2084.3,1457.2 2087.3,1457.9 2090.3,1458.6 2093.3,1459.3 2096.3,1460.0 2099.3,1460.7 2102.3,1461.4 2105.3,1462.1 2108.3,1462.8 2111.3,1463.4 2114.3,1464.0 2117.3,1464.6 2120.3,1465.2 2123.3,1465.8 2126.3,1466.4 2129.3,1467.0 2132.3,1467.5 2135.3,1468.1 2138.3,1468.6 2141.3,1469.1 2144.3,1469.5 2147.3,1470.0 2150.3,1470.4 2153.3,1470.9 2156.3,1471.3 2159.3,1471.7 2162.3,1472.1 2165.3,1472.4 2168.3,1472.7 2171.3,1473.0 2174.3,1473.3 2177.3,1473.6 2180.3,1473.9 2183.3,1474.1 2186.3,1474.4 2189.3,1474.6 2192.3,1474.7 2195.3,1474.8 2197.6,1474.9"/>
<polyline class="cv" stroke="#969696" stroke-width="4.6" points="245.3,918.6 248.3,928.3 251.3,937.6 254.3,946.4 257.3,954.9 260.3,963.2 263.3,971.1 266.3,978.8 269.3,986.4 272.3,993.8 275.3,1001.1 278.3,1008.3 281.3,1015.3 284.3,1022.2 287.3,1029.0 290.3,1035.6 293.3,1042.1 296.3,1048.4 299.3,1054.6 302.3,1060.7 305.3,1066.6 308.3,1072.5 311.3,1078.2 314.3,1083.7 317.3,1089.1 320.3,1094.2 323.3,1099.2 326.3,1103.9 329.3,1108.6 332.3,1113.3 335.3,1117.9 338.3,1122.4 341.3,1126.8 344.3,1130.9 347.3,1134.7 350.3,1138.2 353.3,1141.5 356.3,1144.6 359.3,1147.4 362.3,1149.9 365.3,1152.2 368.3,1154.2 371.3,1155.9 374.3,1157.4 377.3,1158.5 380.3,1159.3 383.3,1159.8 386.3,1160.0 389.3,1159.8 392.3,1159.4 395.3,1158.6 398.3,1157.5 401.3,1156.0 404.3,1154.1 407.3,1152.0 410.3,1149.4 413.3,1146.4 416.3,1143.1 419.3,1139.4 422.3,1135.2 425.3,1130.7 428.3,1125.9 431.3,1120.6 434.3,1115.0 437.3,1109.1 440.3,1102.9 443.3,1096.3 446.3,1089.5 449.3,1082.3 452.3,1074.9 455.3,1067.2 458.3,1059.3 461.3,1051.1 464.3,1042.8 467.3,1034.2 470.3,1025.5 473.3,1016.6 476.3,1007.5 479.3,998.2 482.3,988.9 485.3,979.4 488.3,969.8 491.3,960.2 494.3,950.5 497.3,940.7 500.3,930.9 503.3,921.0 506.3,911.1 509.3,901.2 512.3,891.3 515.3,881.5 518.3,871.6 521.3,861.8 524.3,852.0 527.3,842.3 530.3,832.5 533.3,822.9 536.3,813.2 539.3,803.6 542.3,794.0 545.3,784.5 548.3,775.0 551.3,765.6 554.3,756.2 557.3,746.9 560.3,737.6 563.3,728.4 566.3,719.3 569.3,710.2 572.3,701.3 575.3,692.4 578.3,683.5 581.3,674.8 584.3,666.1 587.3,657.5 590.3,649.0 593.3,640.6 596.3,632.3 599.3,624.1 602.3,616.0 605.3,608.0 608.3,600.1 611.3,592.3 614.3,584.6 617.3,577.0 620.3,569.5 623.3,562.2 626.3,555.1 629.3,548.0 632.3,541.2 635.3,534.4 638.3,527.8 641.3,521.4 644.3,515.1 647.3,508.9 650.3,503.0 653.3,497.1 656.3,491.5 659.3,486.0 662.3,480.6 665.3,475.3 668.3,470.2 671.3,465.2 674.3,460.3 677.3,455.5 680.3,450.8 683.3,446.3 686.3,441.9 689.3,437.5 692.3,433.3 695.3,429.1 698.3,425.0 701.3,421.0 704.3,417.1 707.3,413.3 710.3,409.6 713.3,405.9 716.3,402.4 719.3,399.0 722.3,395.7 725.3,392.4 728.3,389.3 731.3,386.3 734.3,383.4 737.3,380.7 740.3,378.1 743.3,375.6 746.3,373.3 749.3,371.0 752.3,369.0 755.3,367.0 758.3,365.2 761.3,363.5 764.3,361.8 767.3,360.3 770.3,359.0 773.3,357.7 776.3,356.5 779.3,355.5 782.3,354.6 785.3,353.7 788.3,353.0 791.3,352.3 794.3,351.7 797.3,351.2 800.3,350.8 803.3,350.5 806.3,350.2 809.3,350.1 812.3,350.0 815.3,349.9 818.3,350.0 821.3,350.1 824.3,350.2 827.3,350.4 830.3,350.7 833.3,351.1 836.3,351.5 839.3,352.0 842.3,352.5 845.3,353.1 848.3,353.7 851.3,354.4 854.3,355.1 857.3,355.9 860.3,356.7 863.3,357.6 866.3,358.6 869.3,359.6 872.3,360.6 875.3,361.7 878.3,362.8 881.3,364.0 884.3,365.1 887.3,366.3 890.3,367.6 893.3,368.9 896.3,370.2 899.3,371.5 902.3,372.9 905.3,374.3 908.3,375.8 911.3,377.2 914.3,378.7 917.3,380.3 920.3,381.8 923.3,383.3 926.3,384.9 929.3,386.5 932.3,388.1 935.3,389.7 938.3,391.3 941.3,393.0 944.3,394.6 947.3,396.3 950.3,398.0 953.3,399.7 956.3,401.4 959.3,403.1 962.3,404.8 965.3,406.5 968.3,408.1 971.3,409.8 974.3,411.5 977.3,413.1 980.3,414.8 983.3,416.5 986.3,418.2 989.3,419.8 992.3,421.5 995.3,423.1 998.3,424.7 1001.3,426.3 1004.3,427.9 1007.3,429.6 1010.3,431.2 1013.3,432.8 1016.3,434.4 1019.3,436.0 1022.3,437.6 1025.3,439.2 1028.3,440.8 1031.3,442.4 1034.3,444.0 1037.3,445.6 1040.3,447.2 1043.3,448.8 1046.3,450.5 1049.3,452.1 1052.3,453.7 1055.3,455.3 1058.3,457.0 1061.3,458.6 1064.3,460.2 1067.3,461.8 1070.3,463.5 1073.3,465.1 1076.3,466.8 1079.3,468.5 1082.3,470.3 1085.3,472.0 1088.3,473.7 1091.3,475.4 1094.3,477.1 1097.3,478.9 1100.3,480.6 1103.3,482.4 1106.3,484.2 1109.3,486.1 1112.3,487.9 1115.3,489.8 1118.3,491.6 1121.3,493.5 1124.3,495.4 1127.3,497.3 1130.3,499.2 1133.3,501.2 1136.3,503.2 1139.3,505.2 1142.3,507.2 1145.3,509.2 1148.3,511.2 1151.3,513.3 1154.3,515.4 1157.3,517.5 1160.3,519.7 1163.3,521.9 1166.3,524.1 1169.3,526.4 1172.3,528.6 1175.3,530.9 1178.3,533.3 1181.3,535.6 1184.3,538.0 1187.3,540.4 1190.3,542.8 1193.3,545.3 1196.3,547.8 1199.3,550.3 1202.3,552.8 1205.3,555.4 1208.3,558.1 1211.3,560.7 1214.3,563.5 1217.3,566.2 1220.3,569.0 1223.3,571.8 1226.3,574.7 1229.3,577.6 1232.3,580.5 1235.3,583.4 1238.3,586.5 1241.3,589.5 1244.3,592.6 1247.3,595.7 1250.3,598.8 1253.3,602.0 1256.3,605.2 1259.3,608.4 1262.3,611.7 1265.3,615.1 1268.3,618.5 1271.3,621.9 1274.3,625.3 1277.3,628.8 1280.3,632.4 1283.3,635.9 1286.3,639.5 1289.3,643.1 1292.3,646.7 1295.3,650.4 1298.3,654.1 1301.3,657.9 1304.3,661.7 1307.3,665.6 1310.3,669.4 1313.3,673.3 1316.3,677.3 1319.3,681.2 1322.3,685.2 1325.3,689.2 1328.3,693.2 1331.3,697.3 1334.3,701.5 1337.3,705.7 1340.3,709.9 1343.3,714.2 1346.3,718.4 1349.3,722.8 1352.3,727.1 1355.3,731.5 1358.3,735.9 1361.3,740.3 1364.3,744.7 1367.3,749.2 1370.3,753.8 1373.3,758.4 1376.3,763.0 1379.3,767.6 1382.3,772.3 1385.3,777.0 1388.3,781.7 1391.3,786.4 1394.3,791.2 1397.3,796.0 1400.3,800.9 1403.3,805.8 1406.3,810.7 1409.3,815.6 1412.3,820.5 1415.3,825.5 1418.3,830.5 1421.3,835.5 1424.3,840.6 1427.3,845.6 1430.3,850.7 1433.3,855.8 1436.3,860.9 1439.3,866.0 1442.3,871.1 1445.3,876.2 1448.3,881.2 1451.3,886.3 1454.3,891.4 1457.3,896.5 1460.3,901.6 1463.3,906.7 1466.3,911.8 1469.3,916.8 1472.3,921.8 1475.3,926.8 1478.3,931.8 1481.3,936.8 1484.3,941.7 1487.3,946.7 1490.3,951.6 1493.3,956.4 1496.3,961.3 1499.3,966.1 1502.3,970.8 1505.3,975.6 1508.3,980.3 1511.3,985.0 1514.3,989.6 1517.3,994.2 1520.3,998.7 1523.3,1003.2 1526.3,1007.7 1529.3,1012.1 1532.3,1016.5 1535.3,1020.9 1538.3,1025.2 1541.3,1029.5 1544.3,1033.8 1547.3,1038.0 1550.3,1042.2 1553.3,1046.3 1556.3,1050.5 1559.3,1054.6 1562.3,1058.6 1565.3,1062.6 1568.3,1066.6 1571.3,1070.6 1574.3,1074.5 1577.3,1078.4 1580.3,1082.2 1583.3,1086.0 1586.3,1089.8 1589.3,1093.5 1592.3,1097.2 1595.3,1100.9 1598.3,1104.5 1601.3,1108.1 1604.3,1111.7 1607.3,1115.3 1610.3,1118.8 1613.3,1122.3 1616.3,1125.8 1619.3,1129.2 1622.3,1132.6 1625.3,1135.9 1628.3,1139.2 1631.3,1142.5 1634.3,1145.8 1637.3,1149.1 1640.3,1152.3 1643.3,1155.5 1646.3,1158.7 1649.3,1161.8 1652.3,1164.9 1655.3,1168.0 1658.3,1171.0 1661.3,1174.0 1664.3,1177.0 1667.3,1179.9 1670.3,1182.9 1673.3,1185.8 1676.3,1188.7 1679.3,1191.5 1682.3,1194.4 1685.3,1197.2 1688.3,1199.9 1691.3,1202.7 1694.3,1205.4 1697.3,1208.1 1700.3,1210.7 1703.3,1213.3 1706.3,1215.9 1709.3,1218.5 1712.3,1221.1 1715.3,1223.6 1718.3,1226.2 1721.3,1228.6 1724.3,1231.1 1727.3,1233.5 1730.3,1235.9 1733.3,1238.3 1736.3,1240.7 1739.3,1243.0 1742.3,1245.4 1745.3,1247.7 1748.3,1250.0 1751.3,1252.2 1754.3,1254.4 1757.3,1256.6 1760.3,1258.8 1763.3,1261.0 1766.3,1263.1 1769.3,1265.2 1772.3,1267.3 1775.3,1269.4 1778.3,1271.5 1781.3,1273.5 1784.3,1275.5 1787.3,1277.5 1790.3,1279.5 1793.3,1281.4 1796.3,1283.4 1799.3,1285.3 1802.3,1287.2 1805.3,1289.1 1808.3,1290.9 1811.3,1292.8 1814.3,1294.6 1817.3,1296.4 1820.3,1298.2 1823.3,1299.9 1826.3,1301.6 1829.3,1303.3 1832.3,1305.0 1835.3,1306.7 1838.3,1308.4 1841.3,1310.1 1844.3,1311.7 1847.3,1313.3 1850.3,1314.9 1853.3,1316.5 1856.3,1318.1 1859.3,1319.6 1862.3,1321.2 1865.3,1322.7 1868.3,1324.2 1871.3,1325.6 1874.3,1327.1 1877.3,1328.5 1880.3,1330.0 1883.3,1331.4 1886.3,1332.8 1889.3,1334.2 1892.3,1335.6 1895.3,1336.9 1898.3,1338.3 1901.3,1339.6 1904.3,1340.9 1907.3,1342.2 1910.3,1343.5 1913.3,1344.8 1916.3,1346.0 1919.3,1347.3 1922.3,1348.5 1925.3,1349.7 1928.3,1351.0 1931.3,1352.2 1934.3,1353.3 1937.3,1354.5 1940.3,1355.7 1943.3,1356.8 1946.3,1358.0 1949.3,1359.1 1952.3,1360.2 1955.3,1361.3 1958.3,1362.4 1961.3,1363.4 1964.3,1364.5 1967.3,1365.5 1970.3,1366.6 1973.3,1367.7 1976.3,1368.7 1979.3,1369.8 1982.3,1370.7 1985.3,1371.7 1988.3,1372.7 1991.3,1373.7 1994.3,1374.6 1997.3,1375.6 2000.3,1376.5 2003.3,1377.5 2006.3,1378.4 2009.3,1379.3 2012.3,1380.2 2015.3,1381.1 2018.3,1382.0 2021.3,1382.9 2024.3,1383.8 2027.3,1384.7 2030.3,1385.5 2033.3,1386.4 2036.3,1387.2 2039.3,1388.1 2042.3,1388.9 2045.3,1389.8 2048.3,1390.6 2051.3,1391.4 2054.3,1392.3 2057.3,1393.1 2060.3,1393.9 2063.3,1394.7 2066.3,1395.5 2069.3,1396.3 2072.3,1397.0 2075.3,1397.8 2078.3,1398.6 2081.3,1399.4 2084.3,1400.1 2087.3,1400.9 2090.3,1401.6 2093.3,1402.4 2096.3,1403.1 2099.3,1403.8 2102.3,1404.6 2105.3,1405.3 2108.3,1406.0 2111.3,1406.8 2114.3,1407.5 2117.3,1408.3 2120.3,1409.0 2123.3,1409.7 2126.3,1410.5 2129.3,1411.2 2132.3,1411.9 2135.3,1412.6 2138.3,1413.3 2141.3,1414.0 2144.3,1414.7 2147.3,1415.4 2150.3,1416.2 2153.3,1416.9 2156.3,1417.6 2159.3,1418.3 2162.3,1419.0 2165.3,1419.7 2168.3,1420.4 2171.3,1421.1 2174.3,1421.8 2177.3,1422.5 2180.3,1423.2 2183.3,1423.9 2186.3,1424.6 2189.3,1425.3 2192.3,1426.1 2195.3,1426.8 2197.6,1427.3"/>
<polyline class="cv" stroke="#FF5B5B" stroke-width="4.6" points="245.3,922.0 248.3,930.9 251.3,939.6 254.3,948.1 257.3,956.5 260.3,964.8 263.3,972.9 266.3,980.9 269.3,988.8 272.3,996.5 275.3,1004.0 278.3,1011.4 281.3,1018.7 284.3,1025.7 287.3,1032.6 290.3,1039.3 293.3,1045.9 296.3,1052.2 299.3,1058.5 302.3,1064.5 305.3,1070.4 308.3,1076.1 311.3,1081.6 314.3,1086.9 317.3,1092.0 320.3,1096.9 323.3,1101.7 326.3,1106.2 329.3,1110.5 332.3,1114.7 335.3,1118.6 338.3,1122.3 341.3,1125.8 344.3,1129.1 347.3,1132.1 350.3,1135.0 353.3,1137.6 356.3,1139.9 359.3,1142.0 362.3,1143.8 365.3,1145.3 368.3,1146.6 371.3,1147.6 374.3,1148.2 377.3,1148.6 380.3,1148.7 383.3,1148.4 386.3,1147.8 389.3,1146.9 392.3,1145.6 395.3,1144.0 398.3,1142.1 401.3,1139.8 404.3,1137.1 407.3,1134.1 410.3,1130.7 413.3,1126.9 416.3,1122.6 419.3,1118.0 422.3,1113.0 425.3,1107.6 428.3,1101.8 431.3,1095.6 434.3,1089.1 437.3,1082.2 440.3,1075.1 443.3,1067.6 446.3,1059.9 449.3,1051.9 452.3,1043.6 455.3,1035.1 458.3,1026.4 461.3,1017.4 464.3,1008.3 467.3,999.1 470.3,989.7 473.3,980.2 476.3,970.6 479.3,960.9 482.3,951.0 485.3,941.1 488.3,931.1 491.3,921.0 494.3,910.8 497.3,900.6 500.3,890.3 503.3,879.9 506.3,869.5 509.3,859.0 512.3,848.5 515.3,837.9 518.3,827.3 521.3,816.7 524.3,806.0 527.3,795.4 530.3,784.7 533.3,773.9 536.3,763.2 539.3,752.4 542.3,741.7 545.3,730.9 548.3,720.2 551.3,709.5 554.3,698.8 557.3,688.2 560.3,677.6 563.3,667.1 566.3,656.6 569.3,646.1 572.3,635.7 575.3,625.4 578.3,615.2 581.3,605.0 584.3,595.0 587.3,585.0 590.3,575.2 593.3,565.5 596.3,556.0 599.3,546.5 602.3,537.2 605.3,528.1 608.3,519.0 611.3,510.2 614.3,501.5 617.3,493.0 620.3,484.6 623.3,476.4 626.3,468.4 629.3,460.4 632.3,452.7 635.3,445.0 638.3,437.4 641.3,429.8 644.3,422.4 647.3,414.9 650.3,407.5 653.3,400.2 656.3,392.9 659.3,385.7 662.3,378.7 665.3,371.7 668.3,364.9 671.3,358.2 674.3,351.7 677.3,345.4 680.3,339.3 683.3,333.4 686.3,327.6 689.3,322.0 692.3,316.6 695.3,311.4 698.3,306.4 701.3,301.5 704.3,296.8 707.3,292.3 710.3,288.0 713.3,283.8 716.3,279.8 719.3,275.9 722.3,272.2 725.3,268.7 728.3,265.4 731.3,262.2 734.3,259.2 737.3,256.3 740.3,253.6 743.3,251.0 746.3,248.6 749.3,246.4 752.3,244.3 755.3,242.3 758.3,240.5 761.3,238.9 764.3,237.4 767.3,236.0 770.3,234.8 773.3,233.7 776.3,232.7 779.3,231.9 782.3,231.2 785.3,230.6 788.3,230.1 791.3,229.8 794.3,229.6 797.3,229.5 800.3,229.5 803.3,229.6 806.3,229.9 809.3,230.2 812.3,230.6 815.3,231.2 818.3,231.8 821.3,232.5 824.3,233.3 827.3,234.2 830.3,235.2 833.3,236.2 836.3,237.3 839.3,238.5 842.3,239.8 845.3,241.1 848.3,242.5 851.3,244.0 854.3,245.5 857.3,247.1 860.3,248.7 863.3,250.4 866.3,252.1 869.3,253.9 872.3,255.7 875.3,257.6 878.3,259.4 881.3,261.4 884.3,263.3 887.3,265.3 890.3,267.3 893.3,269.4 896.3,271.5 899.3,273.6 902.3,275.7 905.3,277.8 908.3,279.9 911.3,281.9 914.3,284.0 917.3,286.1 920.3,288.2 923.3,290.4 926.3,292.5 929.3,294.6 932.3,296.7 935.3,298.7 938.3,300.8 941.3,302.8 944.3,304.9 947.3,306.9 950.3,309.0 953.3,311.0 956.3,313.0 959.3,315.1 962.3,317.1 965.3,319.2 968.3,321.2 971.3,323.2 974.3,325.2 977.3,327.2 980.3,329.2 983.3,331.2 986.3,333.2 989.3,335.2 992.3,337.2 995.3,339.2 998.3,341.2 1001.3,343.3 1004.3,345.3 1007.3,347.3 1010.3,349.3 1013.3,351.3 1016.3,353.3 1019.3,355.4 1022.3,357.4 1025.3,359.5 1028.3,361.5 1031.3,363.5 1034.3,365.6 1037.3,367.6 1040.3,369.7 1043.3,371.8 1046.3,373.9 1049.3,376.0 1052.3,378.1 1055.3,380.1 1058.3,382.2 1061.3,384.3 1064.3,386.4 1067.3,388.6 1070.3,390.8 1073.3,392.9 1076.3,395.1 1079.3,397.3 1082.3,399.5 1085.3,401.7 1088.3,403.9 1091.3,406.1 1094.3,408.3 1097.3,410.6 1100.3,412.9 1103.3,415.2 1106.3,417.5 1109.3,419.8 1112.3,422.1 1115.3,424.5 1118.3,426.8 1121.3,429.2 1124.3,431.6 1127.3,434.0 1130.3,436.4 1133.3,438.8 1136.3,441.3 1139.3,443.8 1142.3,446.3 1145.3,448.8 1148.3,451.4 1151.3,453.9 1154.3,456.5 1157.3,459.1 1160.3,461.7 1163.3,464.3 1166.3,467.0 1169.3,469.8 1172.3,472.5 1175.3,475.2 1178.3,478.0 1181.3,480.8 1184.3,483.6 1187.3,486.4 1190.3,489.3 1193.3,492.2 1196.3,495.2 1199.3,498.2 1202.3,501.2 1205.3,504.3 1208.3,507.4 1211.3,510.6 1214.3,513.8 1217.3,517.0 1220.3,520.3 1223.3,523.7 1226.3,527.1 1229.3,530.6 1232.3,534.2 1235.3,537.8 1238.3,541.5 1241.3,545.3 1244.3,549.1 1247.3,553.0 1250.3,557.0 1253.3,561.0 1256.3,565.1 1259.3,569.4 1262.3,573.7 1265.3,578.0 1268.3,582.5 1271.3,587.0 1274.3,591.5 1277.3,596.1 1280.3,600.8 1283.3,605.5 1286.3,610.4 1289.3,615.3 1292.3,620.2 1295.3,625.3 1298.3,630.4 1301.3,635.5 1304.3,640.7 1307.3,645.9 1310.3,651.1 1313.3,656.4 1316.3,661.8 1319.3,667.2 1322.3,672.7 1325.3,678.2 1328.3,683.8 1331.3,689.5 1334.3,695.1 1337.3,700.8 1340.3,706.6 1343.3,712.4 1346.3,718.2 1349.3,724.1 1352.3,730.0 1355.3,736.0 1358.3,741.9 1361.3,748.0 1364.3,754.0 1367.3,760.0 1370.3,766.1 1373.3,772.2 1376.3,778.4 1379.3,784.5 1382.3,790.7 1385.3,796.9 1388.3,803.2 1391.3,809.4 1394.3,815.7 1397.3,822.0 1400.3,828.3 1403.3,834.6 1406.3,840.9 1409.3,847.2 1412.3,853.6 1415.3,859.9 1418.3,866.2 1421.3,872.5 1424.3,878.9 1427.3,885.2 1430.3,891.5 1433.3,897.7 1436.3,904.0 1439.3,910.2 1442.3,916.4 1445.3,922.6 1448.3,928.8 1451.3,934.9 1454.3,941.1 1457.3,947.2 1460.3,953.2 1463.3,959.2 1466.3,965.2 1469.3,971.1 1472.3,977.0 1475.3,982.9 1478.3,988.7 1481.3,994.5 1484.3,1000.2 1487.3,1005.9 1490.3,1011.5 1493.3,1017.0 1496.3,1022.5 1499.3,1027.9 1502.3,1033.3 1505.3,1038.6 1508.3,1043.9 1511.3,1049.1 1514.3,1054.2 1517.3,1059.3 1520.3,1064.3 1523.3,1069.3 1526.3,1074.3 1529.3,1079.2 1532.3,1084.0 1535.3,1088.8 1538.3,1093.6 1541.3,1098.3 1544.3,1102.9 1547.3,1107.5 1550.3,1112.1 1553.3,1116.6 1556.3,1121.1 1559.3,1125.5 1562.3,1129.8 1565.3,1134.2 1568.3,1138.4 1571.3,1142.7 1574.3,1146.8 1577.3,1150.9 1580.3,1155.0 1583.3,1159.0 1586.3,1163.0 1589.3,1166.9 1592.3,1170.8 1595.3,1174.7 1598.3,1178.5 1601.3,1182.3 1604.3,1186.0 1607.3,1189.7 1610.3,1193.4 1613.3,1197.0 1616.3,1200.5 1619.3,1204.0 1622.3,1207.4 1625.3,1210.9 1628.3,1214.2 1631.3,1217.6 1634.3,1220.9 1637.3,1224.2 1640.3,1227.4 1643.3,1230.6 1646.3,1233.7 1649.3,1236.8 1652.3,1239.9 1655.3,1242.9 1658.3,1245.9 1661.3,1248.9 1664.3,1251.8 1667.3,1254.6 1670.3,1257.5 1673.3,1260.3 1676.3,1263.0 1679.3,1265.8 1682.3,1268.5 1685.3,1271.2 1688.3,1273.8 1691.3,1276.4 1694.3,1279.0 1697.3,1281.5 1700.3,1284.0 1703.3,1286.4 1706.3,1288.8 1709.3,1291.2 1712.3,1293.6 1715.3,1295.9 1718.3,1298.2 1721.3,1300.5 1724.3,1302.7 1727.3,1304.9 1730.3,1307.0 1733.3,1309.2 1736.3,1311.3 1739.3,1313.4 1742.3,1315.4 1745.3,1317.4 1748.3,1319.4 1751.3,1321.4 1754.3,1323.3 1757.3,1325.2 1760.3,1327.1 1763.3,1329.0 1766.3,1330.9 1769.3,1332.7 1772.3,1334.4 1775.3,1336.2 1778.3,1337.9 1781.3,1339.6 1784.3,1341.3 1787.3,1342.9 1790.3,1344.6 1793.3,1346.2 1796.3,1347.8 1799.3,1349.4 1802.3,1351.0 1805.3,1352.5 1808.3,1354.0 1811.3,1355.5 1814.3,1356.9 1817.3,1358.3 1820.3,1359.7 1823.3,1361.1 1826.3,1362.5 1829.3,1363.9 1832.3,1365.2 1835.3,1366.6 1838.3,1367.9 1841.3,1369.2 1844.3,1370.5 1847.3,1371.8 1850.3,1373.0 1853.3,1374.2 1856.3,1375.4 1859.3,1376.6 1862.3,1377.8 1865.3,1379.0 1868.3,1380.2 1871.3,1381.3 1874.3,1382.4 1877.3,1383.6 1880.3,1384.7 1883.3,1385.8 1886.3,1386.9 1889.3,1387.9 1892.3,1389.0 1895.3,1390.1 1898.3,1391.2 1901.3,1392.2 1904.3,1393.2 1907.3,1394.3 1910.3,1395.2 1913.3,1396.2 1916.3,1397.2 1919.3,1398.2 1922.3,1399.1 1925.3,1400.1 1928.3,1401.1 1931.3,1402.1 1934.3,1403.1 1937.3,1404.0 1940.3,1405.0 1943.3,1405.9 1946.3,1406.9 1949.3,1407.8 1952.3,1408.7 1955.3,1409.6 1958.3,1410.5 1961.3,1411.5 1964.3,1412.4 1967.3,1413.3 1970.3,1414.2 1973.3,1415.1 1976.3,1416.0 1979.3,1416.9 1982.3,1417.8 1985.3,1418.7 1988.3,1419.6 1991.3,1420.5 1994.3,1421.5 1997.3,1422.4 2000.3,1423.3 2003.3,1424.2 2006.3,1425.1 2009.3,1426.0 2012.3,1426.9 2015.3,1427.8 2018.3,1428.7 2021.3,1429.6 2024.3,1430.5 2027.3,1431.4 2030.3,1432.2 2033.3,1433.1 2036.3,1433.9 2039.3,1434.8 2042.3,1435.6 2045.3,1436.5 2048.3,1437.3 2051.3,1438.1 2054.3,1438.9 2057.3,1439.7 2060.3,1440.5 2063.3,1441.3 2066.3,1442.1 2069.3,1442.9 2072.3,1443.7 2075.3,1444.4 2078.3,1445.2 2081.3,1445.9 2084.3,1446.7 2087.3,1447.4 2090.3,1448.1 2093.3,1448.8 2096.3,1449.5 2099.3,1450.1 2102.3,1450.8 2105.3,1451.4 2108.3,1452.1 2111.3,1452.7 2114.3,1453.3 2117.3,1454.0 2120.3,1454.6 2123.3,1455.2 2126.3,1455.8 2129.3,1456.3 2132.3,1456.8 2135.3,1457.3 2138.3,1457.8 2141.3,1458.3 2144.3,1458.8 2147.3,1459.3 2150.3,1459.7 2153.3,1460.2 2156.3,1460.6 2159.3,1461.0 2162.3,1461.4 2165.3,1461.7 2168.3,1462.1 2171.3,1462.4 2174.3,1462.7 2177.3,1463.0 2180.3,1463.2 2183.3,1463.5 2186.3,1463.7 2189.3,1463.9 2192.3,1464.1 2195.3,1464.3 2197.6,1464.4"/>
<polyline class="cv" stroke="#5B9BD5" stroke-width="4.4" points="246.6,781.5 247.6,806.0 248.4,826.0 251.3,831.4 254.3,836.4 257.3,843.6 260.3,852.6 263.3,862.7 266.3,873.2 269.3,883.6 272.3,893.2 275.3,902.1 278.3,910.4 281.3,918.5 284.3,926.4 287.3,934.3 290.3,942.0 293.3,949.6 296.3,957.0 299.3,964.3 302.3,971.4 305.3,978.3 308.3,985.1 311.3,991.8 314.3,998.3 317.3,1004.7 320.3,1010.9 323.3,1017.0 326.3,1022.9 329.3,1028.7 332.3,1034.2 335.3,1039.6 338.3,1044.7 341.3,1049.6 344.3,1054.3 347.3,1058.8 350.3,1063.1 353.3,1067.1 356.3,1070.8 359.3,1074.3 362.3,1077.5 365.3,1080.4 368.3,1083.0 371.3,1085.3 374.3,1087.4 377.3,1089.1 380.3,1090.4 383.3,1091.4 386.3,1092.1 389.3,1092.4 392.3,1092.4 395.3,1091.9 398.3,1091.1 401.3,1089.8 404.3,1088.2 407.3,1086.1 410.3,1083.6 413.3,1080.7 416.3,1077.3 419.3,1073.5 422.3,1069.2 425.3,1064.4 428.3,1059.2 431.3,1053.4 434.3,1047.1 437.3,1040.3 440.3,1033.0 443.3,1025.2 446.3,1017.0 449.3,1008.3 452.3,999.3 455.3,990.0 458.3,980.4 461.3,970.7 464.3,960.7 467.3,950.6 470.3,940.5 473.3,930.3 476.3,920.1 479.3,910.0 482.3,900.0 485.3,890.1 488.3,880.2 491.3,870.4 494.3,860.8 497.3,851.2 500.3,841.6 503.3,832.1 506.3,822.7 509.3,813.3 512.3,804.0 515.3,794.7 518.3,785.3 521.3,776.1 524.3,766.8 527.3,757.5 530.3,748.2 533.3,738.9 536.3,729.6 539.3,720.2 542.3,710.7 545.3,701.2 548.3,691.7 551.3,682.0 554.3,672.4 557.3,662.6 560.3,652.7 563.3,642.8 566.3,632.8 569.3,622.7 572.3,612.6 575.3,602.6 578.3,592.5 581.3,582.5 584.3,572.6 587.3,562.8 590.3,553.1 593.3,543.7 596.3,534.5 599.3,525.5 602.3,516.7 605.3,508.2 608.3,500.0 611.3,492.1 614.3,484.3 617.3,476.9 620.3,469.6 623.3,462.7 626.3,456.0 629.3,449.5 632.3,443.3 635.3,437.3 638.3,431.5 641.3,425.6 644.3,419.5 647.3,413.0 650.3,405.9 653.3,398.3 656.3,390.5 659.3,382.8 662.3,375.5 665.3,368.6 668.3,362.0 671.3,355.8 674.3,349.7 677.3,343.9 680.3,338.3 683.3,332.9 686.3,327.7 689.3,322.8 692.3,318.0 695.3,313.3 698.3,308.8 701.3,304.5 704.3,300.3 707.3,296.2 710.3,292.3 713.3,288.5 716.3,284.9 719.3,281.4 722.3,278.1 725.3,274.8 728.3,271.7 731.3,268.8 734.3,265.9 737.3,263.2 740.3,260.6 743.3,258.1 746.3,255.7 749.3,253.5 752.3,251.3 755.3,249.3 758.3,247.4 761.3,245.6 764.3,243.9 767.3,242.3 770.3,240.7 773.3,239.3 776.3,238.0 779.3,236.8 782.3,235.7 785.3,234.6 788.3,233.7 791.3,232.8 794.3,232.0 797.3,231.3 800.3,230.7 803.3,230.2 806.3,229.7 809.3,229.4 812.3,229.0 815.3,228.8 818.3,228.6 821.3,228.5 824.3,228.5 827.3,228.5 830.3,228.6 833.3,228.7 836.3,228.9 839.3,229.2 842.3,229.5 845.3,229.9 848.3,230.3 851.3,230.7 854.3,231.2 857.3,231.7 860.3,232.3 863.3,232.9 866.3,233.5 869.3,234.2 872.3,234.9 875.3,235.6 878.3,236.4 881.3,237.2 884.3,238.0 887.3,238.9 890.3,239.8 893.3,240.7 896.3,241.6 899.3,242.5 902.3,243.5 905.3,244.5 908.3,245.5 911.3,246.5 914.3,247.6 917.3,248.6 920.3,249.7 923.3,250.8 926.3,251.9 929.3,253.1 932.3,254.2 935.3,255.4 938.3,256.7 941.3,257.9 944.3,259.1 947.3,260.4 950.3,261.7 953.3,262.9 956.3,264.2 959.3,265.5 962.3,266.8 965.3,268.1 968.3,269.5 971.3,270.9 974.3,272.2 977.3,273.6 980.3,275.1 983.3,276.5 986.3,277.9 989.3,279.4 992.3,280.8 995.3,282.2 998.3,283.7 1001.3,285.1 1004.3,286.6 1007.3,288.1 1010.3,289.6 1013.3,291.0 1016.3,292.5 1019.3,294.0 1022.3,295.5 1025.3,297.0 1028.3,298.5 1031.3,300.0 1034.3,301.5 1037.3,303.0 1040.3,304.5 1043.3,306.1 1046.3,307.6 1049.3,309.1 1052.3,310.7 1055.3,312.2 1058.3,313.7 1061.3,315.2 1064.3,316.7 1067.3,318.3 1070.3,319.8 1073.3,321.3 1076.3,322.8 1079.3,324.3 1082.3,325.8 1085.3,327.3 1088.3,328.8 1091.3,330.4 1094.3,331.9 1097.3,333.4 1100.3,334.9 1103.3,336.5 1106.3,338.0 1109.3,339.5 1112.3,341.1 1115.3,342.6 1118.3,344.3 1121.3,345.9 1124.3,347.6 1127.3,349.2 1130.3,350.9 1133.3,352.5 1136.3,354.2 1139.3,356.0 1142.3,357.7 1145.3,359.5 1148.3,361.3 1151.3,363.2 1154.3,365.1 1157.3,367.0 1160.3,369.0 1163.3,371.0 1166.3,373.1 1169.3,375.1 1172.3,377.3 1175.3,379.4 1178.3,381.6 1181.3,383.9 1184.3,386.2 1187.3,388.5 1190.3,390.9 1193.3,393.4 1196.3,395.9 1199.3,398.4 1202.3,401.0 1205.3,403.6 1208.3,406.3 1211.3,409.1 1214.3,412.0 1217.3,414.9 1220.3,417.9 1223.3,420.9 1226.3,423.9 1229.3,427.0 1232.3,430.2 1235.3,433.4 1238.3,436.7 1241.3,440.0 1244.3,443.4 1247.3,446.9 1250.3,450.4 1253.3,453.9 1256.3,457.6 1259.3,461.2 1262.3,464.9 1265.3,468.7 1268.3,472.6 1271.3,476.5 1274.3,480.4 1277.3,484.4 1280.3,488.5 1283.3,492.6 1286.3,496.7 1289.3,500.9 1292.3,505.2 1295.3,509.5 1298.3,513.9 1301.3,518.4 1304.3,522.9 1307.3,527.5 1310.3,532.1 1313.3,536.7 1316.3,541.4 1319.3,546.2 1322.3,551.0 1325.3,555.9 1328.3,560.8 1331.3,565.7 1334.3,570.7 1337.3,575.7 1340.3,580.8 1343.3,585.9 1346.3,591.1 1349.3,596.3 1352.3,601.6 1355.3,606.8 1358.3,612.1 1361.3,617.5 1364.3,622.8 1367.3,628.2 1370.3,633.6 1373.3,639.1 1376.3,644.6 1379.3,650.1 1382.3,655.6 1385.3,661.2 1388.3,666.8 1391.3,672.4 1394.3,678.0 1397.3,683.7 1400.3,689.4 1403.3,695.1 1406.3,700.8 1409.3,706.5 1412.3,712.2 1415.3,718.0 1418.3,723.7 1421.3,729.5 1424.3,735.3 1427.3,741.0 1430.3,746.8 1433.3,752.6 1436.3,758.5 1439.3,764.3 1442.3,770.1 1445.3,775.8 1448.3,781.6 1451.3,787.4 1454.3,793.3 1457.3,799.1 1460.3,804.9 1463.3,810.8 1466.3,816.6 1469.3,822.4 1472.3,828.1 1475.3,833.9 1478.3,839.7 1481.3,845.4 1484.3,851.1 1487.3,856.9 1490.3,862.6 1493.3,868.3 1496.3,874.0 1499.3,879.6 1502.3,885.3 1505.3,890.9 1508.3,896.5 1511.3,902.1 1514.3,907.6 1517.3,913.1 1520.3,918.6 1523.3,924.1 1526.3,929.5 1529.3,934.9 1532.3,940.3 1535.3,945.7 1538.3,951.0 1541.3,956.3 1544.3,961.6 1547.3,966.8 1550.3,972.0 1553.3,977.1 1556.3,982.2 1559.3,987.3 1562.3,992.3 1565.3,997.2 1568.3,1002.2 1571.3,1007.1 1574.3,1011.9 1577.3,1016.7 1580.3,1021.5 1583.3,1026.2 1586.3,1030.8 1589.3,1035.4 1592.3,1040.0 1595.3,1044.5 1598.3,1049.0 1601.3,1053.5 1604.3,1057.9 1607.3,1062.3 1610.3,1066.6 1613.3,1070.9 1616.3,1075.1 1619.3,1079.3 1622.3,1083.4 1625.3,1087.5 1628.3,1091.6 1631.3,1095.6 1634.3,1099.6 1637.3,1103.6 1640.3,1107.5 1643.3,1111.4 1646.3,1115.3 1649.3,1119.1 1652.3,1122.8 1655.3,1126.6 1658.3,1130.3 1661.3,1133.9 1664.3,1137.5 1667.3,1141.1 1670.3,1144.6 1673.3,1148.1 1676.3,1151.6 1679.3,1155.0 1682.3,1158.4 1685.3,1161.8 1688.3,1165.1 1691.3,1168.5 1694.3,1171.7 1697.3,1175.0 1700.3,1178.2 1703.3,1181.3 1706.3,1184.4 1709.3,1187.5 1712.3,1190.5 1715.3,1193.5 1718.3,1196.5 1721.3,1199.5 1724.3,1202.4 1727.3,1205.3 1730.3,1208.2 1733.3,1211.0 1736.3,1213.8 1739.3,1216.6 1742.3,1219.3 1745.3,1222.1 1748.3,1224.7 1751.3,1227.4 1754.3,1230.0 1757.3,1232.5 1760.3,1235.1 1763.3,1237.6 1766.3,1240.1 1769.3,1242.6 1772.3,1245.0 1775.3,1247.4 1778.3,1249.8 1781.3,1252.2 1784.3,1254.5 1787.3,1256.8 1790.3,1259.1 1793.3,1261.4 1796.3,1263.6 1799.3,1265.8 1802.3,1268.0 1805.3,1270.1 1808.3,1272.2 1811.3,1274.3 1814.3,1276.4 1817.3,1278.4 1820.3,1280.4 1823.3,1282.4 1826.3,1284.4 1829.3,1286.4 1832.3,1288.3 1835.3,1290.2 1838.3,1292.1 1841.3,1294.0 1844.3,1295.8 1847.3,1297.6 1850.3,1299.4 1853.3,1301.2 1856.3,1302.9 1859.3,1304.6 1862.3,1306.3 1865.3,1308.0 1868.3,1309.7 1871.3,1311.3 1874.3,1313.0 1877.3,1314.6 1880.3,1316.2 1883.3,1317.8 1886.3,1319.3 1889.3,1320.9 1892.3,1322.4 1895.3,1323.9 1898.3,1325.3 1901.3,1326.8 1904.3,1328.2 1907.3,1329.6 1910.3,1331.0 1913.3,1332.4 1916.3,1333.8 1919.3,1335.2 1922.3,1336.5 1925.3,1337.8 1928.3,1339.1 1931.3,1340.4 1934.3,1341.7 1937.3,1342.9 1940.3,1344.2 1943.3,1345.4 1946.3,1346.6 1949.3,1347.8 1952.3,1349.0 1955.3,1350.2 1958.3,1351.3 1961.3,1352.5 1964.3,1353.6 1967.3,1354.8 1970.3,1355.9 1973.3,1357.0 1976.3,1358.1 1979.3,1359.2 1982.3,1360.2 1985.3,1361.3 1988.3,1362.3 1991.3,1363.4 1994.3,1364.4 1997.3,1365.5 2000.3,1366.5 2003.3,1367.5 2006.3,1368.5 2009.3,1369.4 2012.3,1370.4 2015.3,1371.3 2018.3,1372.3 2021.3,1373.3 2024.3,1374.2 2027.3,1375.2 2030.3,1376.1 2033.3,1377.0 2036.3,1377.9 2039.3,1378.8 2042.3,1379.7 2045.3,1380.6 2048.3,1381.4 2051.3,1382.3 2054.3,1383.2 2057.3,1384.1 2060.3,1385.0 2063.3,1385.9 2066.3,1386.7 2069.3,1387.6 2072.3,1388.4 2075.3,1389.2 2078.3,1390.1 2081.3,1390.9 2084.3,1391.7 2087.3,1392.6 2090.3,1393.4 2093.3,1394.2 2096.3,1395.1 2099.3,1395.9 2102.3,1396.7 2105.3,1397.6 2108.3,1398.4 2111.3,1399.3 2114.3,1400.1 2117.3,1400.9 2120.3,1401.7 2123.3,1402.5 2126.3,1403.3 2129.3,1404.2 2132.3,1405.0 2135.3,1405.8 2138.3,1406.7 2141.3,1407.5 2144.3,1408.4 2147.3,1409.2 2150.3,1410.0 2153.3,1410.9 2156.3,1411.7 2159.3,1412.5 2162.3,1413.4 2165.3,1414.2 2168.3,1415.1 2171.3,1415.9 2174.3,1416.8 2177.3,1417.7 2180.3,1418.6 2183.3,1419.5 2186.3,1420.4 2189.3,1421.3 2192.3,1422.2 2195.3,1423.1 2197.6,1423.8"/>
</g>
<g class="ax">
<path d="M217.6,60.7 H2200.5 M2197.6,60.7 V1602.8 M245.3,57.800000000000004 V1602.8 M217.6,1573.9 H2197.6"/>
<path d="M231.5,1479.33 H245.3 M217.6,1384.75 H245.3 M231.5,1290.18 H245.3 M217.6,1195.60 H245.3 M231.5,1101.03 H245.3 M217.6,1006.45 H245.3 M231.5,911.88 H245.3 M217.6,817.30 H245.3 M231.5,722.73 H245.3 M217.6,628.15 H245.3 M231.5,533.58 H245.3 M217.6,439.00 H245.3 M231.5,344.43 H245.3 M217.6,249.85 H245.3 M231.5,155.28 H245.3 M367.32,1573.9 V1588.5 M489.34,1573.9 V1602.8 M611.36,1573.9 V1588.5 M733.38,1573.9 V1602.8 M855.39,1573.9 V1588.5 M977.41,1573.9 V1602.8 M1099.43,1573.9 V1588.5 M1221.45,1573.9 V1602.8 M1343.47,1573.9 V1588.5 M1465.49,1573.9 V1602.8 M1587.51,1573.9 V1588.5 M1709.52,1573.9 V1602.8 M1831.54,1573.9 V1588.5 M1953.56,1573.9 V1602.8 M2075.58,1573.9 V1588.5"/>
</g>
<text transform="translate(198.80,1593.50) scale(0.893,1)" font-size="68.4" text-anchor="end" fill="#000">0.0</text>
<text transform="translate(198.80,1404.35) scale(0.893,1)" font-size="68.4" text-anchor="end" fill="#000">0.2</text>
<text transform="translate(198.80,1215.20) scale(0.893,1)" font-size="68.4" text-anchor="end" fill="#000">0.4</text>
<text transform="translate(198.80,1026.05) scale(0.893,1)" font-size="68.4" text-anchor="end" fill="#000">0.6</text>
<text transform="translate(198.80,836.90) scale(0.893,1)" font-size="68.4" text-anchor="end" fill="#000">0.8</text>
<text transform="translate(198.80,647.75) scale(0.893,1)" font-size="68.4" text-anchor="end" fill="#000">1.0</text>
<text transform="translate(198.80,458.60) scale(0.893,1)" font-size="68.4" text-anchor="end" fill="#000">1.2</text>
<text transform="translate(198.80,269.45) scale(0.893,1)" font-size="68.4" text-anchor="end" fill="#000">1.4</text>
<text transform="translate(198.80,80.30) scale(0.893,1)" font-size="68.4" text-anchor="end" fill="#000">1.6</text>
<text transform="translate(245.30,1674.20) scale(0.893,1)" font-size="68.4" text-anchor="middle" fill="#000">300</text>
<text transform="translate(489.34,1674.20) scale(0.893,1)" font-size="68.4" text-anchor="middle" fill="#000">350</text>
<text transform="translate(733.38,1674.20) scale(0.893,1)" font-size="68.4" text-anchor="middle" fill="#000">400</text>
<text transform="translate(977.41,1674.20) scale(0.893,1)" font-size="68.4" text-anchor="middle" fill="#000">450</text>
<text transform="translate(1221.45,1674.20) scale(0.893,1)" font-size="68.4" text-anchor="middle" fill="#000">500</text>
<text transform="translate(1465.49,1674.20) scale(0.893,1)" font-size="68.4" text-anchor="middle" fill="#000">550</text>
<text transform="translate(1709.52,1674.20) scale(0.893,1)" font-size="68.4" text-anchor="middle" fill="#000">600</text>
<text transform="translate(1953.56,1674.20) scale(0.893,1)" font-size="68.4" text-anchor="middle" fill="#000">650</text>
<text transform="translate(2197.60,1674.20) scale(0.893,1)" font-size="68.4" text-anchor="middle" fill="#000">700</text>
<text transform="translate(84.40,818.50) rotate(-90) scale(1.09,1)" font-size="72.3" text-anchor="middle" fill="#000">Absorbance (a.u.)</text>
<text transform="translate(1221.40,1783.50) scale(0.935,1)" font-size="78.5" text-anchor="middle" fill="#000">Wavelength (nm)</text>
<text transform="translate(1108.50,177.60) scale(0.9335,1)" font-size="78.5" text-anchor="start" fill="#000">Extract concentration (%v/v)</text>
<text transform="translate(1826.50,313.00) scale(0.93,1)" font-size="78.0" text-anchor="start" fill="#000">nm</text>
<text transform="translate(2019.50,313.00) scale(0.93,1)" font-size="78.0" text-anchor="start" fill="#000">a.u.</text>
<rect x="1637.4" y="436.8" width="519.9000000000001" height="93.40000000000003" fill="#FFCCFF"/>
<line class="lg" stroke="#5B9BD5" x1="1463.5" y1="384.00" x2="1626.5" y2="384.00"/>
<text transform="translate(1644.80,411.30) scale(0.912,1)" font-size="80.0" text-anchor="start" fill="#6699CC">4.0; 420.5; 1.422</text>
<line class="lg" stroke="#FF5B5B" x1="1463.5" y1="482.43" x2="1626.5" y2="482.43"/>
<text transform="translate(1644.80,509.73) scale(0.912,1)" font-size="80.0" text-anchor="start" fill="#FF4D80">3.5; 414.5; 1.421</text>
<line class="lg" stroke="#969696" x1="1463.5" y1="580.86" x2="1626.5" y2="580.86"/>
<text transform="translate(1644.80,608.16) scale(0.912,1)" font-size="80.0" text-anchor="start" fill="#969696">3.0; 416.0; 1.294</text>
<line class="lg" stroke="#5C5C99" x1="1463.5" y1="679.29" x2="1626.5" y2="679.29"/>
<text transform="translate(1644.80,706.59) scale(0.912,1)" font-size="80.0" text-anchor="start" fill="#5C5C99">2.5; 412.5; 1.216</text>
<line class="lg" stroke="#2DBD6E" x1="1463.5" y1="777.72" x2="1626.5" y2="777.72"/>
<text transform="translate(1644.80,805.02) scale(0.912,1)" font-size="80.0" text-anchor="start" fill="#33BB66">2.0; 414.5; 1.130</text>
<line class="lg" stroke="#FFC000" x1="1463.5" y1="876.15" x2="1626.5" y2="876.15"/>
<text transform="translate(1644.80,903.45) scale(0.912,1)" font-size="80.0" text-anchor="start" fill="#FFC20E">1.5; 412.5; 0.979</text>
<line class="lg" stroke="#255E91" x1="1463.5" y1="974.58" x2="1626.5" y2="974.58"/>
<text transform="translate(1644.80,1001.88) scale(0.912,1)" font-size="80.0" text-anchor="start" fill="#2E6399">1.0; 413.5; 0.753</text>
<line class="lg" stroke="#EA0000" x1="1463.5" y1="1073.01" x2="1626.5" y2="1073.01"/>
<text transform="translate(1644.80,1100.31) scale(0.912,1)" font-size="80.0" text-anchor="start" fill="#EA0000">0.5; 413.5; 0.454</text>
</svg>
</body></html>
